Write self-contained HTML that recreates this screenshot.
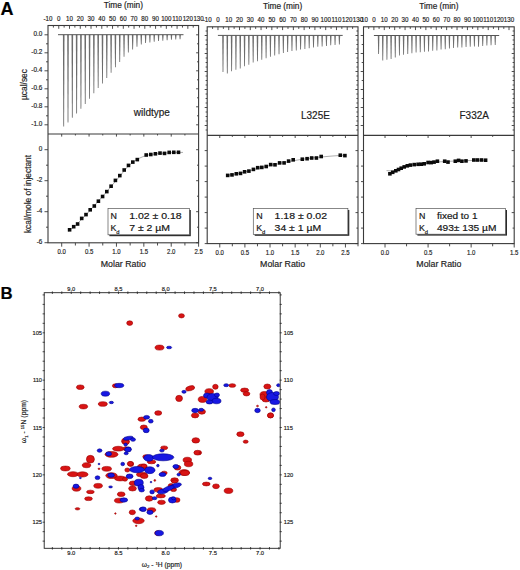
<!DOCTYPE html>
<html><head><meta charset="utf-8"><style>
html,body{margin:0;padding:0;background:#fff;}
svg{display:block;}
text{font-family:"Liberation Sans", sans-serif; stroke:#222; stroke-width:0.18px;}
</style></head><body>
<svg width="520" height="570" viewBox="0 0 520 570">
<defs><clipPath id="nmrclip"><rect x="44.6" y="293.1" width="235.2" height="254.8"/></clipPath></defs>
<rect width="520" height="570" fill="#fff"/>
<g clip-path="url(#nmrclip)">
<ellipse cx="129.7" cy="323.1" rx="3.00" ry="2.30" fill="#d81414" stroke="#9c0000" stroke-width="0.6"/>
<ellipse cx="181.5" cy="315.8" rx="2.90" ry="2.15" fill="#d81414" stroke="#9c0000" stroke-width="0.6"/>
<ellipse cx="159.5" cy="347.6" rx="4.50" ry="2.50" fill="#d81414" stroke="#9c0000" stroke-width="0.6"/>
<ellipse cx="80.3" cy="387.2" rx="3.85" ry="2.30" fill="#d81414" stroke="#9c0000" stroke-width="0.6"/>
<ellipse cx="115.4" cy="385.8" rx="3.00" ry="2.00" fill="#d81414" stroke="#9c0000" stroke-width="0.6"/>
<ellipse cx="102.8" cy="404.0" rx="4.50" ry="2.30" fill="#d81414" stroke="#9c0000" stroke-width="0.6"/>
<ellipse cx="83.4" cy="406.6" rx="4.25" ry="2.30" fill="#d81414" stroke="#9c0000" stroke-width="0.6"/>
<ellipse cx="190.2" cy="388.3" rx="4.60" ry="2.40" fill="#d81414" stroke="#9c0000" stroke-width="0.6" transform="rotate(-15 190.2 388.3)"/>
<ellipse cx="179.1" cy="398.4" rx="3.40" ry="3.10" fill="#d81414" stroke="#9c0000" stroke-width="0.6"/>
<ellipse cx="215.4" cy="386.8" rx="2.75" ry="2.50" fill="#d81414" stroke="#9c0000" stroke-width="0.6"/>
<ellipse cx="209.2" cy="391.4" rx="4.30" ry="2.75" fill="#d81414" stroke="#9c0000" stroke-width="0.6"/>
<ellipse cx="202.5" cy="399.4" rx="4.30" ry="3.00" fill="#d81414" stroke="#9c0000" stroke-width="0.6"/>
<ellipse cx="201.8" cy="411.7" rx="3.70" ry="2.50" fill="#d81414" stroke="#9c0000" stroke-width="0.6"/>
<ellipse cx="195.1" cy="415.4" rx="3.70" ry="2.50" fill="#d81414" stroke="#9c0000" stroke-width="0.6"/>
<ellipse cx="158.2" cy="413.0" rx="3.50" ry="2.30" fill="#d81414" stroke="#9c0000" stroke-width="0.6"/>
<ellipse cx="232.3" cy="385.5" rx="3.40" ry="1.85" fill="#d81414" stroke="#9c0000" stroke-width="0.6"/>
<ellipse cx="244.6" cy="390.2" rx="4.00" ry="2.15" fill="#d81414" stroke="#9c0000" stroke-width="0.6"/>
<ellipse cx="246.5" cy="393.8" rx="3.40" ry="2.15" fill="#d81414" stroke="#9c0000" stroke-width="0.6"/>
<ellipse cx="267.3" cy="386.5" rx="3.50" ry="2.50" fill="#d81414" stroke="#9c0000" stroke-width="0.6"/>
<ellipse cx="264.5" cy="394.5" rx="4.50" ry="3.00" fill="#d81414" stroke="#9c0000" stroke-width="0.6"/>
<ellipse cx="266.0" cy="399.5" rx="4.00" ry="2.50" fill="#d81414" stroke="#9c0000" stroke-width="0.6"/>
<ellipse cx="262.5" cy="397.0" rx="2.50" ry="3.00" fill="#d81414" stroke="#9c0000" stroke-width="0.6"/>
<ellipse cx="270.5" cy="415.4" rx="3.00" ry="2.50" fill="#d81414" stroke="#9c0000" stroke-width="0.6"/>
<ellipse cx="257.5" cy="406.0" rx="1.00" ry="0.80" fill="#d81414" stroke="#9c0000" stroke-width="0.6"/>
<ellipse cx="266.2" cy="407.3" rx="0.80" ry="0.70" fill="#d81414" stroke="#9c0000" stroke-width="0.6"/>
<ellipse cx="141.8" cy="419.2" rx="3.85" ry="2.15" fill="#d81414" stroke="#9c0000" stroke-width="0.6"/>
<ellipse cx="143.8" cy="427.3" rx="3.50" ry="2.30" fill="#d81414" stroke="#9c0000" stroke-width="0.6"/>
<ellipse cx="125.4" cy="441.2" rx="3.85" ry="3.00" fill="#d81414" stroke="#9c0000" stroke-width="0.6"/>
<ellipse cx="126.0" cy="442.5" rx="2.50" ry="2.00" fill="#d81414" stroke="#9c0000" stroke-width="0.6"/>
<ellipse cx="195.8" cy="440.4" rx="3.85" ry="2.70" fill="#d81414" stroke="#9c0000" stroke-width="0.6"/>
<ellipse cx="197.7" cy="452.7" rx="3.85" ry="2.40" fill="#d81414" stroke="#9c0000" stroke-width="0.6"/>
<ellipse cx="240.4" cy="434.2" rx="3.65" ry="2.40" fill="#d81414" stroke="#9c0000" stroke-width="0.6"/>
<ellipse cx="245.7" cy="441.7" rx="2.50" ry="1.60" fill="#d81414" stroke="#9c0000" stroke-width="0.6"/>
<ellipse cx="164.2" cy="447.8" rx="3.50" ry="1.90" fill="#d81414" stroke="#9c0000" stroke-width="0.6"/>
<ellipse cx="151.5" cy="461.9" rx="4.25" ry="1.90" fill="#d81414" stroke="#9c0000" stroke-width="0.6"/>
<ellipse cx="145.8" cy="456.7" rx="3.00" ry="2.00" fill="#d81414" stroke="#9c0000" stroke-width="0.6"/>
<ellipse cx="187.3" cy="460.0" rx="4.25" ry="2.75" fill="#d81414" stroke="#9c0000" stroke-width="0.6"/>
<ellipse cx="188.6" cy="464.0" rx="4.25" ry="2.75" fill="#d81414" stroke="#9c0000" stroke-width="0.6"/>
<ellipse cx="177.5" cy="467.7" rx="3.35" ry="2.40" fill="#d81414" stroke="#9c0000" stroke-width="0.6"/>
<ellipse cx="184.2" cy="472.5" rx="5.30" ry="2.90" fill="#d81414" stroke="#9c0000" stroke-width="0.6"/>
<ellipse cx="164.2" cy="472.9" rx="3.00" ry="1.75" fill="#d81414" stroke="#9c0000" stroke-width="0.6"/>
<ellipse cx="174.6" cy="480.2" rx="3.85" ry="2.40" fill="#d81414" stroke="#9c0000" stroke-width="0.6"/>
<ellipse cx="206.3" cy="484.0" rx="3.85" ry="1.90" fill="#d81414" stroke="#9c0000" stroke-width="0.6"/>
<ellipse cx="216.0" cy="486.3" rx="3.35" ry="2.40" fill="#d81414" stroke="#9c0000" stroke-width="0.6"/>
<ellipse cx="228.5" cy="490.8" rx="4.35" ry="2.70" fill="#d81414" stroke="#9c0000" stroke-width="0.6"/>
<ellipse cx="185.0" cy="473.0" rx="4.50" ry="2.50" fill="#d81414" stroke="#9c0000" stroke-width="0.6"/>
<ellipse cx="158.3" cy="489.8" rx="4.35" ry="2.20" fill="#d81414" stroke="#9c0000" stroke-width="0.6"/>
<ellipse cx="160.8" cy="496.0" rx="4.60" ry="1.90" fill="#d81414" stroke="#9c0000" stroke-width="0.6"/>
<ellipse cx="149.2" cy="498.5" rx="3.85" ry="2.70" fill="#d81414" stroke="#9c0000" stroke-width="0.6"/>
<ellipse cx="161.5" cy="502.3" rx="3.85" ry="2.15" fill="#d81414" stroke="#9c0000" stroke-width="0.6"/>
<ellipse cx="176.9" cy="500.0" rx="3.10" ry="2.30" fill="#d81414" stroke="#9c0000" stroke-width="0.6"/>
<ellipse cx="171.2" cy="485.6" rx="3.00" ry="2.00" fill="#d81414" stroke="#9c0000" stroke-width="0.6"/>
<ellipse cx="173.5" cy="489.6" rx="3.00" ry="2.00" fill="#d81414" stroke="#9c0000" stroke-width="0.6"/>
<ellipse cx="174.6" cy="481.5" rx="3.10" ry="1.60" fill="#d81414" stroke="#9c0000" stroke-width="0.6"/>
<ellipse cx="65.4" cy="468.5" rx="4.80" ry="2.40" fill="#d81414" stroke="#9c0000" stroke-width="0.6"/>
<ellipse cx="73.0" cy="474.2" rx="5.50" ry="2.50" fill="#d81414" stroke="#9c0000" stroke-width="0.6"/>
<ellipse cx="82.5" cy="474.4" rx="5.50" ry="2.60" fill="#d81414" stroke="#9c0000" stroke-width="0.6"/>
<ellipse cx="90.4" cy="459.2" rx="4.00" ry="3.85" fill="#d81414" stroke="#9c0000" stroke-width="0.6"/>
<ellipse cx="86.5" cy="465.2" rx="4.25" ry="2.50" fill="#d81414" stroke="#9c0000" stroke-width="0.6"/>
<ellipse cx="111.5" cy="454.4" rx="6.50" ry="2.90" fill="#d81414" stroke="#9c0000" stroke-width="0.6"/>
<ellipse cx="118.3" cy="448.7" rx="5.75" ry="2.40" fill="#d81414" stroke="#9c0000" stroke-width="0.6"/>
<ellipse cx="126.0" cy="442.0" rx="3.35" ry="2.40" fill="#d81414" stroke="#9c0000" stroke-width="0.6"/>
<ellipse cx="125.6" cy="448.7" rx="2.50" ry="2.00" fill="#d81414" stroke="#9c0000" stroke-width="0.6"/>
<ellipse cx="106.7" cy="468.8" rx="4.80" ry="2.40" fill="#d81414" stroke="#9c0000" stroke-width="0.6"/>
<ellipse cx="130.8" cy="464.0" rx="2.90" ry="2.40" fill="#d81414" stroke="#9c0000" stroke-width="0.6"/>
<ellipse cx="130.2" cy="463.7" rx="2.90" ry="2.30" fill="#d81414" stroke="#9c0000" stroke-width="0.6"/>
<ellipse cx="127.3" cy="470.0" rx="2.50" ry="2.00" fill="#d81414" stroke="#9c0000" stroke-width="0.6"/>
<ellipse cx="111.5" cy="475.6" rx="5.75" ry="2.90" fill="#d81414" stroke="#9c0000" stroke-width="0.6"/>
<ellipse cx="120.2" cy="478.5" rx="5.75" ry="2.40" fill="#d81414" stroke="#9c0000" stroke-width="0.6"/>
<ellipse cx="125.0" cy="479.2" rx="2.50" ry="2.00" fill="#d81414" stroke="#9c0000" stroke-width="0.6"/>
<ellipse cx="142.3" cy="467.0" rx="4.80" ry="2.90" fill="#d81414" stroke="#9c0000" stroke-width="0.6"/>
<ellipse cx="144.0" cy="466.0" rx="3.00" ry="2.00" fill="#d81414" stroke="#9c0000" stroke-width="0.6"/>
<ellipse cx="141.7" cy="474.5" rx="5.20" ry="2.30" fill="#d81414" stroke="#9c0000" stroke-width="0.6"/>
<ellipse cx="144.2" cy="476.0" rx="3.85" ry="2.50" fill="#d81414" stroke="#9c0000" stroke-width="0.6"/>
<ellipse cx="133.1" cy="483.3" rx="3.85" ry="2.30" fill="#d81414" stroke="#9c0000" stroke-width="0.6"/>
<ellipse cx="132.5" cy="488.5" rx="3.85" ry="2.50" fill="#d81414" stroke="#9c0000" stroke-width="0.6"/>
<ellipse cx="98.1" cy="485.8" rx="4.35" ry="2.40" fill="#d81414" stroke="#9c0000" stroke-width="0.6"/>
<ellipse cx="76.5" cy="488.5" rx="4.35" ry="2.70" fill="#d81414" stroke="#9c0000" stroke-width="0.6"/>
<ellipse cx="90.4" cy="491.9" rx="3.85" ry="1.75" fill="#d81414" stroke="#9c0000" stroke-width="0.6"/>
<ellipse cx="88.5" cy="498.7" rx="3.85" ry="1.90" fill="#d81414" stroke="#9c0000" stroke-width="0.6"/>
<ellipse cx="121.2" cy="494.2" rx="3.85" ry="2.30" fill="#d81414" stroke="#9c0000" stroke-width="0.6"/>
<ellipse cx="119.2" cy="500.6" rx="4.80" ry="2.40" fill="#d81414" stroke="#9c0000" stroke-width="0.6"/>
<ellipse cx="77.5" cy="508.8" rx="2.40" ry="1.15" fill="#d81414" stroke="#9c0000" stroke-width="0.6"/>
<ellipse cx="132.3" cy="512.3" rx="3.10" ry="2.40" fill="#d81414" stroke="#9c0000" stroke-width="0.6"/>
<ellipse cx="151.5" cy="510.0" rx="4.25" ry="2.30" fill="#d81414" stroke="#9c0000" stroke-width="0.6"/>
<ellipse cx="138.5" cy="520.8" rx="5.75" ry="2.90" fill="#d81414" stroke="#9c0000" stroke-width="0.6"/>
<ellipse cx="157.7" cy="533.1" rx="3.00" ry="2.40" fill="#d81414" stroke="#9c0000" stroke-width="0.6"/>
<ellipse cx="115.4" cy="513.5" rx="0.75" ry="0.75" fill="#d81414" stroke="#9c0000" stroke-width="0.6"/>
<ellipse cx="99.0" cy="468.8" rx="1.00" ry="0.75" fill="#d81414" stroke="#9c0000" stroke-width="0.6"/>
<ellipse cx="156.2" cy="516.5" rx="0.75" ry="0.75" fill="#d81414" stroke="#9c0000" stroke-width="0.6"/>
<ellipse cx="136.2" cy="525.8" rx="0.80" ry="0.80" fill="#d81414" stroke="#9c0000" stroke-width="0.6"/>
<ellipse cx="154.8" cy="480.4" rx="0.90" ry="0.90" fill="#d81414" stroke="#9c0000" stroke-width="0.6"/>
<ellipse cx="200.0" cy="453.0" rx="1.00" ry="1.00" fill="#d81414" stroke="#9c0000" stroke-width="0.6"/>
<ellipse cx="270.5" cy="415.4" rx="3.00" ry="2.50" fill="#d81414" stroke="#9c0000" stroke-width="0.6"/>
<ellipse cx="169.1" cy="347.5" rx="2.60" ry="1.30" fill="#1717e2" stroke="#00008c" stroke-width="0.6"/>
<ellipse cx="119.2" cy="385.5" rx="4.60" ry="2.15" fill="#1717e2" stroke="#00008c" stroke-width="0.6"/>
<ellipse cx="105.4" cy="393.7" rx="4.25" ry="2.50" fill="#1717e2" stroke="#00008c" stroke-width="0.6"/>
<ellipse cx="111.4" cy="402.5" rx="2.15" ry="1.20" fill="#1717e2" stroke="#00008c" stroke-width="0.6"/>
<ellipse cx="184.0" cy="391.8" rx="2.15" ry="1.50" fill="#1717e2" stroke="#00008c" stroke-width="0.6"/>
<ellipse cx="207.0" cy="395.5" rx="3.50" ry="2.50" fill="#1717e2" stroke="#00008c" stroke-width="0.6"/>
<ellipse cx="212.5" cy="397.5" rx="5.50" ry="4.00" fill="#1717e2" stroke="#00008c" stroke-width="0.6"/>
<ellipse cx="216.5" cy="401.0" rx="4.50" ry="2.75" fill="#1717e2" stroke="#00008c" stroke-width="0.6"/>
<ellipse cx="209.5" cy="402.0" rx="3.50" ry="2.00" fill="#1717e2" stroke="#00008c" stroke-width="0.6"/>
<ellipse cx="217.0" cy="395.0" rx="2.50" ry="2.00" fill="#1717e2" stroke="#00008c" stroke-width="0.6"/>
<ellipse cx="195.1" cy="410.5" rx="3.40" ry="2.15" fill="#1717e2" stroke="#00008c" stroke-width="0.6"/>
<ellipse cx="201.2" cy="409.8" rx="2.50" ry="1.50" fill="#1717e2" stroke="#00008c" stroke-width="0.6"/>
<ellipse cx="226.2" cy="385.2" rx="2.50" ry="1.50" fill="#1717e2" stroke="#00008c" stroke-width="0.6"/>
<ellipse cx="278.5" cy="385.2" rx="1.85" ry="1.50" fill="#1717e2" stroke="#00008c" stroke-width="0.6"/>
<ellipse cx="269.5" cy="392.5" rx="3.00" ry="3.00" fill="#1717e2" stroke="#00008c" stroke-width="0.6"/>
<ellipse cx="272.5" cy="397.0" rx="6.00" ry="4.50" fill="#1717e2" stroke="#00008c" stroke-width="0.6"/>
<ellipse cx="275.0" cy="402.0" rx="5.00" ry="2.50" fill="#1717e2" stroke="#00008c" stroke-width="0.6"/>
<ellipse cx="276.5" cy="393.5" rx="3.00" ry="2.00" fill="#1717e2" stroke="#00008c" stroke-width="0.6"/>
<ellipse cx="257.5" cy="410.5" rx="2.75" ry="2.15" fill="#1717e2" stroke="#00008c" stroke-width="0.6"/>
<ellipse cx="273.5" cy="409.8" rx="1.85" ry="1.85" fill="#1717e2" stroke="#00008c" stroke-width="0.6"/>
<ellipse cx="146.6" cy="417.3" rx="3.00" ry="1.90" fill="#1717e2" stroke="#00008c" stroke-width="0.6"/>
<ellipse cx="150.8" cy="421.2" rx="2.30" ry="1.90" fill="#1717e2" stroke="#00008c" stroke-width="0.6"/>
<ellipse cx="146.2" cy="430.4" rx="3.00" ry="2.30" fill="#1717e2" stroke="#00008c" stroke-width="0.6"/>
<ellipse cx="128.3" cy="438.2" rx="5.00" ry="1.80" fill="#1717e2" stroke="#00008c" stroke-width="0.6" transform="rotate(-8 128.3 438.2)"/>
<ellipse cx="133.0" cy="439.6" rx="2.50" ry="1.75" fill="#1717e2" stroke="#00008c" stroke-width="0.6"/>
<ellipse cx="126.2" cy="453.3" rx="2.00" ry="1.50" fill="#1717e2" stroke="#00008c" stroke-width="0.6"/>
<ellipse cx="125.6" cy="444.6" rx="1.75" ry="1.50" fill="#1717e2" stroke="#00008c" stroke-width="0.6"/>
<ellipse cx="128.5" cy="449.2" rx="2.75" ry="2.25" fill="#1717e2" stroke="#00008c" stroke-width="0.6"/>
<ellipse cx="161.9" cy="450.6" rx="2.30" ry="1.45" fill="#1717e2" stroke="#00008c" stroke-width="0.6"/>
<ellipse cx="148.7" cy="457.9" rx="5.00" ry="3.30" fill="#1717e2" stroke="#00008c" stroke-width="0.6"/>
<ellipse cx="163.1" cy="457.3" rx="10.75" ry="3.50" fill="#1717e2" stroke="#00008c" stroke-width="0.6"/>
<ellipse cx="157.9" cy="465.6" rx="1.30" ry="1.30" fill="#1717e2" stroke="#00008c" stroke-width="0.6"/>
<ellipse cx="175.8" cy="466.5" rx="2.90" ry="2.00" fill="#1717e2" stroke="#00008c" stroke-width="0.6"/>
<ellipse cx="178.7" cy="474.6" rx="1.70" ry="1.40" fill="#1717e2" stroke="#00008c" stroke-width="0.6"/>
<ellipse cx="162.5" cy="474.4" rx="3.45" ry="2.00" fill="#1717e2" stroke="#00008c" stroke-width="0.6"/>
<ellipse cx="137.0" cy="469.6" rx="7.50" ry="3.10" fill="#1717e2" stroke="#00008c" stroke-width="0.6"/>
<ellipse cx="149.8" cy="470.2" rx="5.20" ry="3.45" fill="#1717e2" stroke="#00008c" stroke-width="0.6"/>
<ellipse cx="129.6" cy="476.3" rx="3.45" ry="2.30" fill="#1717e2" stroke="#00008c" stroke-width="0.6"/>
<ellipse cx="138.8" cy="482.7" rx="4.50" ry="3.45" fill="#1717e2" stroke="#00008c" stroke-width="0.6"/>
<ellipse cx="141.0" cy="487.5" rx="3.00" ry="3.00" fill="#1717e2" stroke="#00008c" stroke-width="0.6"/>
<ellipse cx="141.7" cy="490.2" rx="2.75" ry="1.75" fill="#1717e2" stroke="#00008c" stroke-width="0.6"/>
<ellipse cx="152.1" cy="491.9" rx="2.30" ry="2.00" fill="#1717e2" stroke="#00008c" stroke-width="0.6"/>
<ellipse cx="163.1" cy="491.3" rx="5.75" ry="2.30" fill="#1717e2" stroke="#00008c" stroke-width="0.6" transform="rotate(-12 163.1 491.3)"/>
<ellipse cx="175.8" cy="485.6" rx="5.75" ry="2.30" fill="#1717e2" stroke="#00008c" stroke-width="0.6" transform="rotate(-15 175.8 485.6)"/>
<ellipse cx="168.5" cy="488.5" rx="6.00" ry="2.20" fill="#1717e2" stroke="#00008c" stroke-width="0.6" transform="rotate(-20 168.5 488.5)"/>
<ellipse cx="154.6" cy="498.2" rx="2.30" ry="1.50" fill="#1717e2" stroke="#00008c" stroke-width="0.6"/>
<ellipse cx="172.3" cy="500.0" rx="3.85" ry="3.00" fill="#1717e2" stroke="#00008c" stroke-width="0.6"/>
<ellipse cx="173.5" cy="498.3" rx="2.00" ry="1.50" fill="#1717e2" stroke="#00008c" stroke-width="0.6"/>
<ellipse cx="99.6" cy="450.6" rx="2.40" ry="1.75" fill="#1717e2" stroke="#00008c" stroke-width="0.6"/>
<ellipse cx="108.7" cy="453.8" rx="2.90" ry="2.10" fill="#1717e2" stroke="#00008c" stroke-width="0.6"/>
<ellipse cx="127.9" cy="449.6" rx="3.35" ry="2.40" fill="#1717e2" stroke="#00008c" stroke-width="0.6"/>
<ellipse cx="122.7" cy="464.0" rx="1.90" ry="1.75" fill="#1717e2" stroke="#00008c" stroke-width="0.6"/>
<ellipse cx="111.1" cy="475.2" rx="3.35" ry="2.10" fill="#1717e2" stroke="#00008c" stroke-width="0.6"/>
<ellipse cx="97.5" cy="477.7" rx="2.40" ry="1.90" fill="#1717e2" stroke="#00008c" stroke-width="0.6"/>
<ellipse cx="76.0" cy="486.2" rx="2.90" ry="2.10" fill="#1717e2" stroke="#00008c" stroke-width="0.6"/>
<ellipse cx="110.6" cy="486.9" rx="1.90" ry="1.00" fill="#1717e2" stroke="#00008c" stroke-width="0.6"/>
<ellipse cx="123.8" cy="500.0" rx="3.85" ry="2.15" fill="#1717e2" stroke="#00008c" stroke-width="0.6"/>
<ellipse cx="142.3" cy="509.2" rx="3.10" ry="1.90" fill="#1717e2" stroke="#00008c" stroke-width="0.6"/>
<ellipse cx="150.0" cy="512.3" rx="3.10" ry="2.15" fill="#1717e2" stroke="#00008c" stroke-width="0.6"/>
<ellipse cx="137.2" cy="518.5" rx="2.30" ry="1.50" fill="#1717e2" stroke="#00008c" stroke-width="0.6"/>
<ellipse cx="159.2" cy="533.1" rx="4.25" ry="2.70" fill="#1717e2" stroke="#00008c" stroke-width="0.6"/>
<ellipse cx="210.0" cy="478.4" rx="1.80" ry="1.20" fill="#1717e2" stroke="#00008c" stroke-width="0.6"/>
<ellipse cx="80.4" cy="477.9" rx="1.00" ry="0.75" fill="#1717e2" stroke="#00008c" stroke-width="0.6"/>
<ellipse cx="99.0" cy="464.0" rx="1.00" ry="0.75" fill="#1717e2" stroke="#00008c" stroke-width="0.6"/>
<ellipse cx="151.0" cy="482.1" rx="0.80" ry="0.80" fill="#1717e2" stroke="#00008c" stroke-width="0.6"/>
<ellipse cx="143.3" cy="509.2" rx="3.00" ry="2.30" fill="#1717e2" stroke="#00008c" stroke-width="0.6"/>
</g>
<line x1="53.38" y1="25.50" x2="53.38" y2="27.60" stroke="#3a3a3a" stroke-width="0.9" />
<line x1="58.76" y1="25.50" x2="58.76" y2="28.80" stroke="#3a3a3a" stroke-width="0.9" />
<line x1="64.14" y1="25.50" x2="64.14" y2="27.60" stroke="#3a3a3a" stroke-width="0.9" />
<line x1="69.51" y1="25.50" x2="69.51" y2="28.80" stroke="#3a3a3a" stroke-width="0.9" />
<line x1="74.89" y1="25.50" x2="74.89" y2="27.60" stroke="#3a3a3a" stroke-width="0.9" />
<line x1="80.27" y1="25.50" x2="80.27" y2="28.80" stroke="#3a3a3a" stroke-width="0.9" />
<line x1="85.65" y1="25.50" x2="85.65" y2="27.60" stroke="#3a3a3a" stroke-width="0.9" />
<line x1="91.03" y1="25.50" x2="91.03" y2="28.80" stroke="#3a3a3a" stroke-width="0.9" />
<line x1="96.41" y1="25.50" x2="96.41" y2="27.60" stroke="#3a3a3a" stroke-width="0.9" />
<line x1="101.79" y1="25.50" x2="101.79" y2="28.80" stroke="#3a3a3a" stroke-width="0.9" />
<line x1="107.16" y1="25.50" x2="107.16" y2="27.60" stroke="#3a3a3a" stroke-width="0.9" />
<line x1="112.54" y1="25.50" x2="112.54" y2="28.80" stroke="#3a3a3a" stroke-width="0.9" />
<line x1="117.92" y1="25.50" x2="117.92" y2="27.60" stroke="#3a3a3a" stroke-width="0.9" />
<line x1="123.30" y1="25.50" x2="123.30" y2="28.80" stroke="#3a3a3a" stroke-width="0.9" />
<line x1="128.68" y1="25.50" x2="128.68" y2="27.60" stroke="#3a3a3a" stroke-width="0.9" />
<line x1="134.06" y1="25.50" x2="134.06" y2="28.80" stroke="#3a3a3a" stroke-width="0.9" />
<line x1="139.44" y1="25.50" x2="139.44" y2="27.60" stroke="#3a3a3a" stroke-width="0.9" />
<line x1="144.81" y1="25.50" x2="144.81" y2="28.80" stroke="#3a3a3a" stroke-width="0.9" />
<line x1="150.19" y1="25.50" x2="150.19" y2="27.60" stroke="#3a3a3a" stroke-width="0.9" />
<line x1="155.57" y1="25.50" x2="155.57" y2="28.80" stroke="#3a3a3a" stroke-width="0.9" />
<line x1="160.95" y1="25.50" x2="160.95" y2="27.60" stroke="#3a3a3a" stroke-width="0.9" />
<line x1="166.33" y1="25.50" x2="166.33" y2="28.80" stroke="#3a3a3a" stroke-width="0.9" />
<line x1="171.71" y1="25.50" x2="171.71" y2="27.60" stroke="#3a3a3a" stroke-width="0.9" />
<line x1="177.09" y1="25.50" x2="177.09" y2="28.80" stroke="#3a3a3a" stroke-width="0.9" />
<line x1="182.46" y1="25.50" x2="182.46" y2="27.60" stroke="#3a3a3a" stroke-width="0.9" />
<line x1="187.84" y1="25.50" x2="187.84" y2="28.80" stroke="#3a3a3a" stroke-width="0.9" />
<line x1="193.22" y1="25.50" x2="193.22" y2="27.60" stroke="#3a3a3a" stroke-width="0.9" />
<text x="48.00" y="20.60" font-size="7.0" text-anchor="middle" fill="#222" textLength="8.96" lengthAdjust="spacingAndGlyphs">-10</text>
<text x="58.76" y="20.60" font-size="7.0" text-anchor="middle" fill="#222" textLength="3.45" lengthAdjust="spacingAndGlyphs">0</text>
<text x="69.51" y="20.60" font-size="7.0" text-anchor="middle" fill="#222" textLength="6.90" lengthAdjust="spacingAndGlyphs">10</text>
<text x="80.27" y="20.60" font-size="7.0" text-anchor="middle" fill="#222" textLength="6.90" lengthAdjust="spacingAndGlyphs">20</text>
<text x="91.03" y="20.60" font-size="7.0" text-anchor="middle" fill="#222" textLength="6.90" lengthAdjust="spacingAndGlyphs">30</text>
<text x="101.79" y="20.60" font-size="7.0" text-anchor="middle" fill="#222" textLength="6.90" lengthAdjust="spacingAndGlyphs">40</text>
<text x="112.54" y="20.60" font-size="7.0" text-anchor="middle" fill="#222" textLength="6.90" lengthAdjust="spacingAndGlyphs">50</text>
<text x="123.30" y="20.60" font-size="7.0" text-anchor="middle" fill="#222" textLength="6.90" lengthAdjust="spacingAndGlyphs">60</text>
<text x="134.06" y="20.60" font-size="7.0" text-anchor="middle" fill="#222" textLength="6.90" lengthAdjust="spacingAndGlyphs">70</text>
<text x="144.81" y="20.60" font-size="7.0" text-anchor="middle" fill="#222" textLength="6.90" lengthAdjust="spacingAndGlyphs">80</text>
<text x="155.57" y="20.60" font-size="7.0" text-anchor="middle" fill="#222" textLength="6.90" lengthAdjust="spacingAndGlyphs">90</text>
<text x="166.33" y="20.60" font-size="7.0" text-anchor="middle" fill="#222" textLength="10.34" lengthAdjust="spacingAndGlyphs">100</text>
<text x="177.09" y="20.60" font-size="7.0" text-anchor="middle" fill="#222" textLength="9.88" lengthAdjust="spacingAndGlyphs">110</text>
<text x="187.84" y="20.60" font-size="7.0" text-anchor="middle" fill="#222" textLength="10.34" lengthAdjust="spacingAndGlyphs">120</text>
<text x="198.60" y="20.60" font-size="7.0" text-anchor="middle" fill="#222" textLength="10.34" lengthAdjust="spacingAndGlyphs">130</text>
<text x="123.30" y="7.70" font-size="8.3" text-anchor="middle" fill="#222" font-weight="normal" >Time (min)</text>
<line x1="44.50" y1="34.80" x2="48.00" y2="34.80" stroke="#3a3a3a" stroke-width="0.9" />
<text x="42.40" y="36.20" font-size="7.4" text-anchor="end" fill="#222" textLength="8.90" lengthAdjust="spacingAndGlyphs">0.0</text>
<line x1="46.00" y1="43.80" x2="48.00" y2="43.80" stroke="#3a3a3a" stroke-width="0.9" />
<line x1="44.50" y1="52.80" x2="48.00" y2="52.80" stroke="#3a3a3a" stroke-width="0.9" />
<text x="42.40" y="54.20" font-size="7.4" text-anchor="end" fill="#222" textLength="11.03" lengthAdjust="spacingAndGlyphs">-0.2</text>
<line x1="46.00" y1="61.80" x2="48.00" y2="61.80" stroke="#3a3a3a" stroke-width="0.9" />
<line x1="44.50" y1="70.80" x2="48.00" y2="70.80" stroke="#3a3a3a" stroke-width="0.9" />
<text x="42.40" y="72.20" font-size="7.4" text-anchor="end" fill="#222" textLength="11.03" lengthAdjust="spacingAndGlyphs">-0.4</text>
<line x1="46.00" y1="79.80" x2="48.00" y2="79.80" stroke="#3a3a3a" stroke-width="0.9" />
<line x1="44.50" y1="88.80" x2="48.00" y2="88.80" stroke="#3a3a3a" stroke-width="0.9" />
<text x="42.40" y="90.20" font-size="7.4" text-anchor="end" fill="#222" textLength="11.03" lengthAdjust="spacingAndGlyphs">-0.6</text>
<line x1="46.00" y1="97.80" x2="48.00" y2="97.80" stroke="#3a3a3a" stroke-width="0.9" />
<line x1="44.50" y1="106.80" x2="48.00" y2="106.80" stroke="#3a3a3a" stroke-width="0.9" />
<text x="42.40" y="108.20" font-size="7.4" text-anchor="end" fill="#222" textLength="11.03" lengthAdjust="spacingAndGlyphs">-0.8</text>
<line x1="46.00" y1="115.80" x2="48.00" y2="115.80" stroke="#3a3a3a" stroke-width="0.9" />
<line x1="44.50" y1="124.80" x2="48.00" y2="124.80" stroke="#3a3a3a" stroke-width="0.9" />
<text x="42.40" y="126.20" font-size="7.4" text-anchor="end" fill="#222" textLength="11.03" lengthAdjust="spacingAndGlyphs">-1.0</text>
<line x1="196.10" y1="34.80" x2="198.60" y2="34.80" stroke="#3a3a3a" stroke-width="0.9" />
<line x1="197.00" y1="43.80" x2="198.60" y2="43.80" stroke="#3a3a3a" stroke-width="0.9" />
<line x1="196.10" y1="52.80" x2="198.60" y2="52.80" stroke="#3a3a3a" stroke-width="0.9" />
<line x1="197.00" y1="61.80" x2="198.60" y2="61.80" stroke="#3a3a3a" stroke-width="0.9" />
<line x1="196.10" y1="70.80" x2="198.60" y2="70.80" stroke="#3a3a3a" stroke-width="0.9" />
<line x1="197.00" y1="79.80" x2="198.60" y2="79.80" stroke="#3a3a3a" stroke-width="0.9" />
<line x1="196.10" y1="88.80" x2="198.60" y2="88.80" stroke="#3a3a3a" stroke-width="0.9" />
<line x1="197.00" y1="97.80" x2="198.60" y2="97.80" stroke="#3a3a3a" stroke-width="0.9" />
<line x1="196.10" y1="106.80" x2="198.60" y2="106.80" stroke="#3a3a3a" stroke-width="0.9" />
<line x1="197.00" y1="115.80" x2="198.60" y2="115.80" stroke="#3a3a3a" stroke-width="0.9" />
<line x1="196.10" y1="124.80" x2="198.60" y2="124.80" stroke="#3a3a3a" stroke-width="0.9" />
<line x1="61.69" y1="134.00" x2="61.69" y2="136.60" stroke="#3a3a3a" stroke-width="0.9" />
<line x1="75.38" y1="134.00" x2="75.38" y2="135.50" stroke="#3a3a3a" stroke-width="0.9" />
<line x1="89.07" y1="134.00" x2="89.07" y2="136.60" stroke="#3a3a3a" stroke-width="0.9" />
<line x1="102.76" y1="134.00" x2="102.76" y2="135.50" stroke="#3a3a3a" stroke-width="0.9" />
<line x1="116.45" y1="134.00" x2="116.45" y2="136.60" stroke="#3a3a3a" stroke-width="0.9" />
<line x1="130.15" y1="134.00" x2="130.15" y2="135.50" stroke="#3a3a3a" stroke-width="0.9" />
<line x1="143.84" y1="134.00" x2="143.84" y2="136.60" stroke="#3a3a3a" stroke-width="0.9" />
<line x1="157.53" y1="134.00" x2="157.53" y2="135.50" stroke="#3a3a3a" stroke-width="0.9" />
<line x1="171.22" y1="134.00" x2="171.22" y2="136.60" stroke="#3a3a3a" stroke-width="0.9" />
<line x1="184.91" y1="134.00" x2="184.91" y2="135.50" stroke="#3a3a3a" stroke-width="0.9" />
<line x1="61.69" y1="242.80" x2="61.69" y2="246.70" stroke="#3a3a3a" stroke-width="0.9" />
<text x="61.69" y="253.70" font-size="7.3" text-anchor="middle" fill="#222" textLength="8.34" lengthAdjust="spacingAndGlyphs">0.0</text>
<line x1="75.38" y1="242.80" x2="75.38" y2="245.50" stroke="#3a3a3a" stroke-width="0.9" />
<line x1="89.07" y1="242.80" x2="89.07" y2="246.70" stroke="#3a3a3a" stroke-width="0.9" />
<text x="89.07" y="253.70" font-size="7.3" text-anchor="middle" fill="#222" textLength="8.34" lengthAdjust="spacingAndGlyphs">0.5</text>
<line x1="102.76" y1="242.80" x2="102.76" y2="245.50" stroke="#3a3a3a" stroke-width="0.9" />
<line x1="116.45" y1="242.80" x2="116.45" y2="246.70" stroke="#3a3a3a" stroke-width="0.9" />
<text x="116.45" y="253.70" font-size="7.3" text-anchor="middle" fill="#222" textLength="8.34" lengthAdjust="spacingAndGlyphs">1.0</text>
<line x1="130.15" y1="242.80" x2="130.15" y2="245.50" stroke="#3a3a3a" stroke-width="0.9" />
<line x1="143.84" y1="242.80" x2="143.84" y2="246.70" stroke="#3a3a3a" stroke-width="0.9" />
<text x="143.84" y="253.70" font-size="7.3" text-anchor="middle" fill="#222" textLength="8.34" lengthAdjust="spacingAndGlyphs">1.5</text>
<line x1="157.53" y1="242.80" x2="157.53" y2="245.50" stroke="#3a3a3a" stroke-width="0.9" />
<line x1="171.22" y1="242.80" x2="171.22" y2="246.70" stroke="#3a3a3a" stroke-width="0.9" />
<text x="171.22" y="253.70" font-size="7.3" text-anchor="middle" fill="#222" textLength="8.34" lengthAdjust="spacingAndGlyphs">2.0</text>
<line x1="184.91" y1="242.80" x2="184.91" y2="245.50" stroke="#3a3a3a" stroke-width="0.9" />
<line x1="198.60" y1="242.80" x2="198.60" y2="246.70" stroke="#3a3a3a" stroke-width="0.9" />
<text x="198.60" y="253.70" font-size="7.3" text-anchor="middle" fill="#222" textLength="8.34" lengthAdjust="spacingAndGlyphs">2.5</text>
<text x="123.30" y="266.80" font-size="8.8" text-anchor="middle" fill="#222" font-weight="normal" >Molar Ratio</text>
<line x1="44.50" y1="149.70" x2="48.00" y2="149.70" stroke="#3a3a3a" stroke-width="0.9" />
<text x="42.40" y="151.10" font-size="7.4" text-anchor="end" fill="#222" textLength="3.56" lengthAdjust="spacingAndGlyphs">0</text>
<line x1="196.10" y1="149.70" x2="198.60" y2="149.70" stroke="#3a3a3a" stroke-width="0.9" />
<line x1="46.00" y1="165.20" x2="48.00" y2="165.20" stroke="#3a3a3a" stroke-width="0.9" />
<line x1="197.00" y1="165.20" x2="198.60" y2="165.20" stroke="#3a3a3a" stroke-width="0.9" />
<line x1="44.50" y1="180.70" x2="48.00" y2="180.70" stroke="#3a3a3a" stroke-width="0.9" />
<text x="42.40" y="182.10" font-size="7.4" text-anchor="end" fill="#222" textLength="5.69" lengthAdjust="spacingAndGlyphs">-2</text>
<line x1="196.10" y1="180.70" x2="198.60" y2="180.70" stroke="#3a3a3a" stroke-width="0.9" />
<line x1="46.00" y1="196.20" x2="48.00" y2="196.20" stroke="#3a3a3a" stroke-width="0.9" />
<line x1="197.00" y1="196.20" x2="198.60" y2="196.20" stroke="#3a3a3a" stroke-width="0.9" />
<line x1="44.50" y1="211.70" x2="48.00" y2="211.70" stroke="#3a3a3a" stroke-width="0.9" />
<text x="42.40" y="213.10" font-size="7.4" text-anchor="end" fill="#222" textLength="5.69" lengthAdjust="spacingAndGlyphs">-4</text>
<line x1="196.10" y1="211.70" x2="198.60" y2="211.70" stroke="#3a3a3a" stroke-width="0.9" />
<line x1="46.00" y1="227.20" x2="48.00" y2="227.20" stroke="#3a3a3a" stroke-width="0.9" />
<line x1="197.00" y1="227.20" x2="198.60" y2="227.20" stroke="#3a3a3a" stroke-width="0.9" />
<line x1="44.50" y1="242.70" x2="48.00" y2="242.70" stroke="#3a3a3a" stroke-width="0.9" />
<text x="42.40" y="244.10" font-size="7.4" text-anchor="end" fill="#222" textLength="5.69" lengthAdjust="spacingAndGlyphs">-6</text>
<line x1="196.10" y1="242.70" x2="198.60" y2="242.70" stroke="#3a3a3a" stroke-width="0.9" />
<rect x="48.00" y="25.50" width="150.60" height="217.30" fill="none" stroke="#3a3a3a" stroke-width="1.1"/>
<line x1="48.00" y1="134.00" x2="198.60" y2="134.00" stroke="#3a3a3a" stroke-width="1.1" />
<text x="133.80" y="116.20" font-size="10" text-anchor="start" fill="#1a1a1a" font-weight="normal" >wildtype</text>
<line x1="212.59" y1="26.80" x2="212.59" y2="28.90" stroke="#3a3a3a" stroke-width="0.9" />
<line x1="217.97" y1="26.80" x2="217.97" y2="30.10" stroke="#3a3a3a" stroke-width="0.9" />
<line x1="223.36" y1="26.80" x2="223.36" y2="28.90" stroke="#3a3a3a" stroke-width="0.9" />
<line x1="228.74" y1="26.80" x2="228.74" y2="30.10" stroke="#3a3a3a" stroke-width="0.9" />
<line x1="234.13" y1="26.80" x2="234.13" y2="28.90" stroke="#3a3a3a" stroke-width="0.9" />
<line x1="239.51" y1="26.80" x2="239.51" y2="30.10" stroke="#3a3a3a" stroke-width="0.9" />
<line x1="244.90" y1="26.80" x2="244.90" y2="28.90" stroke="#3a3a3a" stroke-width="0.9" />
<line x1="250.29" y1="26.80" x2="250.29" y2="30.10" stroke="#3a3a3a" stroke-width="0.9" />
<line x1="255.67" y1="26.80" x2="255.67" y2="28.90" stroke="#3a3a3a" stroke-width="0.9" />
<line x1="261.06" y1="26.80" x2="261.06" y2="30.10" stroke="#3a3a3a" stroke-width="0.9" />
<line x1="266.44" y1="26.80" x2="266.44" y2="28.90" stroke="#3a3a3a" stroke-width="0.9" />
<line x1="271.83" y1="26.80" x2="271.83" y2="30.10" stroke="#3a3a3a" stroke-width="0.9" />
<line x1="277.21" y1="26.80" x2="277.21" y2="28.90" stroke="#3a3a3a" stroke-width="0.9" />
<line x1="282.60" y1="26.80" x2="282.60" y2="30.10" stroke="#3a3a3a" stroke-width="0.9" />
<line x1="287.99" y1="26.80" x2="287.99" y2="28.90" stroke="#3a3a3a" stroke-width="0.9" />
<line x1="293.37" y1="26.80" x2="293.37" y2="30.10" stroke="#3a3a3a" stroke-width="0.9" />
<line x1="298.76" y1="26.80" x2="298.76" y2="28.90" stroke="#3a3a3a" stroke-width="0.9" />
<line x1="304.14" y1="26.80" x2="304.14" y2="30.10" stroke="#3a3a3a" stroke-width="0.9" />
<line x1="309.53" y1="26.80" x2="309.53" y2="28.90" stroke="#3a3a3a" stroke-width="0.9" />
<line x1="314.91" y1="26.80" x2="314.91" y2="30.10" stroke="#3a3a3a" stroke-width="0.9" />
<line x1="320.30" y1="26.80" x2="320.30" y2="28.90" stroke="#3a3a3a" stroke-width="0.9" />
<line x1="325.69" y1="26.80" x2="325.69" y2="30.10" stroke="#3a3a3a" stroke-width="0.9" />
<line x1="331.07" y1="26.80" x2="331.07" y2="28.90" stroke="#3a3a3a" stroke-width="0.9" />
<line x1="336.46" y1="26.80" x2="336.46" y2="30.10" stroke="#3a3a3a" stroke-width="0.9" />
<line x1="341.84" y1="26.80" x2="341.84" y2="28.90" stroke="#3a3a3a" stroke-width="0.9" />
<line x1="347.23" y1="26.80" x2="347.23" y2="30.10" stroke="#3a3a3a" stroke-width="0.9" />
<line x1="352.61" y1="26.80" x2="352.61" y2="28.90" stroke="#3a3a3a" stroke-width="0.9" />
<text x="207.20" y="21.90" font-size="7.0" text-anchor="middle" fill="#222" textLength="8.96" lengthAdjust="spacingAndGlyphs">-10</text>
<text x="217.97" y="21.90" font-size="7.0" text-anchor="middle" fill="#222" textLength="3.45" lengthAdjust="spacingAndGlyphs">0</text>
<text x="228.74" y="21.90" font-size="7.0" text-anchor="middle" fill="#222" textLength="6.90" lengthAdjust="spacingAndGlyphs">10</text>
<text x="239.51" y="21.90" font-size="7.0" text-anchor="middle" fill="#222" textLength="6.90" lengthAdjust="spacingAndGlyphs">20</text>
<text x="250.29" y="21.90" font-size="7.0" text-anchor="middle" fill="#222" textLength="6.90" lengthAdjust="spacingAndGlyphs">30</text>
<text x="261.06" y="21.90" font-size="7.0" text-anchor="middle" fill="#222" textLength="6.90" lengthAdjust="spacingAndGlyphs">40</text>
<text x="271.83" y="21.90" font-size="7.0" text-anchor="middle" fill="#222" textLength="6.90" lengthAdjust="spacingAndGlyphs">50</text>
<text x="282.60" y="21.90" font-size="7.0" text-anchor="middle" fill="#222" textLength="6.90" lengthAdjust="spacingAndGlyphs">60</text>
<text x="293.37" y="21.90" font-size="7.0" text-anchor="middle" fill="#222" textLength="6.90" lengthAdjust="spacingAndGlyphs">70</text>
<text x="304.14" y="21.90" font-size="7.0" text-anchor="middle" fill="#222" textLength="6.90" lengthAdjust="spacingAndGlyphs">80</text>
<text x="314.91" y="21.90" font-size="7.0" text-anchor="middle" fill="#222" textLength="6.90" lengthAdjust="spacingAndGlyphs">90</text>
<text x="325.69" y="21.90" font-size="7.0" text-anchor="middle" fill="#222" textLength="10.34" lengthAdjust="spacingAndGlyphs">100</text>
<text x="336.46" y="21.90" font-size="7.0" text-anchor="middle" fill="#222" textLength="9.88" lengthAdjust="spacingAndGlyphs">110</text>
<text x="347.23" y="21.90" font-size="7.0" text-anchor="middle" fill="#222" textLength="10.34" lengthAdjust="spacingAndGlyphs">120</text>
<text x="358.00" y="21.90" font-size="7.0" text-anchor="middle" fill="#222" textLength="10.34" lengthAdjust="spacingAndGlyphs">130</text>
<text x="282.60" y="8.87" font-size="8.3" text-anchor="middle" fill="#222" font-weight="normal" >Time (min)</text>
<line x1="205.60" y1="31.00" x2="207.20" y2="31.00" stroke="#3a3a3a" stroke-width="0.9" />
<line x1="204.70" y1="35.50" x2="207.20" y2="35.50" stroke="#3a3a3a" stroke-width="0.9" />
<line x1="205.60" y1="40.00" x2="207.20" y2="40.00" stroke="#3a3a3a" stroke-width="0.9" />
<line x1="205.60" y1="44.50" x2="207.20" y2="44.50" stroke="#3a3a3a" stroke-width="0.9" />
<line x1="205.60" y1="49.00" x2="207.20" y2="49.00" stroke="#3a3a3a" stroke-width="0.9" />
<line x1="204.70" y1="53.50" x2="207.20" y2="53.50" stroke="#3a3a3a" stroke-width="0.9" />
<line x1="205.60" y1="58.00" x2="207.20" y2="58.00" stroke="#3a3a3a" stroke-width="0.9" />
<line x1="205.60" y1="62.50" x2="207.20" y2="62.50" stroke="#3a3a3a" stroke-width="0.9" />
<line x1="205.60" y1="67.00" x2="207.20" y2="67.00" stroke="#3a3a3a" stroke-width="0.9" />
<line x1="204.70" y1="71.50" x2="207.20" y2="71.50" stroke="#3a3a3a" stroke-width="0.9" />
<line x1="205.60" y1="76.00" x2="207.20" y2="76.00" stroke="#3a3a3a" stroke-width="0.9" />
<line x1="205.60" y1="80.50" x2="207.20" y2="80.50" stroke="#3a3a3a" stroke-width="0.9" />
<line x1="205.60" y1="85.00" x2="207.20" y2="85.00" stroke="#3a3a3a" stroke-width="0.9" />
<line x1="204.70" y1="89.50" x2="207.20" y2="89.50" stroke="#3a3a3a" stroke-width="0.9" />
<line x1="205.60" y1="94.00" x2="207.20" y2="94.00" stroke="#3a3a3a" stroke-width="0.9" />
<line x1="205.60" y1="98.50" x2="207.20" y2="98.50" stroke="#3a3a3a" stroke-width="0.9" />
<line x1="205.60" y1="103.00" x2="207.20" y2="103.00" stroke="#3a3a3a" stroke-width="0.9" />
<line x1="204.70" y1="107.50" x2="207.20" y2="107.50" stroke="#3a3a3a" stroke-width="0.9" />
<line x1="205.60" y1="112.00" x2="207.20" y2="112.00" stroke="#3a3a3a" stroke-width="0.9" />
<line x1="205.60" y1="116.50" x2="207.20" y2="116.50" stroke="#3a3a3a" stroke-width="0.9" />
<line x1="205.60" y1="121.00" x2="207.20" y2="121.00" stroke="#3a3a3a" stroke-width="0.9" />
<line x1="204.70" y1="125.50" x2="207.20" y2="125.50" stroke="#3a3a3a" stroke-width="0.9" />
<line x1="205.60" y1="130.00" x2="207.20" y2="130.00" stroke="#3a3a3a" stroke-width="0.9" />
<line x1="356.40" y1="31.00" x2="358.00" y2="31.00" stroke="#3a3a3a" stroke-width="0.9" />
<line x1="355.50" y1="35.50" x2="358.00" y2="35.50" stroke="#3a3a3a" stroke-width="0.9" />
<line x1="356.40" y1="40.00" x2="358.00" y2="40.00" stroke="#3a3a3a" stroke-width="0.9" />
<line x1="356.40" y1="44.50" x2="358.00" y2="44.50" stroke="#3a3a3a" stroke-width="0.9" />
<line x1="356.40" y1="49.00" x2="358.00" y2="49.00" stroke="#3a3a3a" stroke-width="0.9" />
<line x1="355.50" y1="53.50" x2="358.00" y2="53.50" stroke="#3a3a3a" stroke-width="0.9" />
<line x1="356.40" y1="58.00" x2="358.00" y2="58.00" stroke="#3a3a3a" stroke-width="0.9" />
<line x1="356.40" y1="62.50" x2="358.00" y2="62.50" stroke="#3a3a3a" stroke-width="0.9" />
<line x1="356.40" y1="67.00" x2="358.00" y2="67.00" stroke="#3a3a3a" stroke-width="0.9" />
<line x1="355.50" y1="71.50" x2="358.00" y2="71.50" stroke="#3a3a3a" stroke-width="0.9" />
<line x1="356.40" y1="76.00" x2="358.00" y2="76.00" stroke="#3a3a3a" stroke-width="0.9" />
<line x1="356.40" y1="80.50" x2="358.00" y2="80.50" stroke="#3a3a3a" stroke-width="0.9" />
<line x1="356.40" y1="85.00" x2="358.00" y2="85.00" stroke="#3a3a3a" stroke-width="0.9" />
<line x1="355.50" y1="89.50" x2="358.00" y2="89.50" stroke="#3a3a3a" stroke-width="0.9" />
<line x1="356.40" y1="94.00" x2="358.00" y2="94.00" stroke="#3a3a3a" stroke-width="0.9" />
<line x1="356.40" y1="98.50" x2="358.00" y2="98.50" stroke="#3a3a3a" stroke-width="0.9" />
<line x1="356.40" y1="103.00" x2="358.00" y2="103.00" stroke="#3a3a3a" stroke-width="0.9" />
<line x1="355.50" y1="107.50" x2="358.00" y2="107.50" stroke="#3a3a3a" stroke-width="0.9" />
<line x1="356.40" y1="112.00" x2="358.00" y2="112.00" stroke="#3a3a3a" stroke-width="0.9" />
<line x1="356.40" y1="116.50" x2="358.00" y2="116.50" stroke="#3a3a3a" stroke-width="0.9" />
<line x1="356.40" y1="121.00" x2="358.00" y2="121.00" stroke="#3a3a3a" stroke-width="0.9" />
<line x1="355.50" y1="125.50" x2="358.00" y2="125.50" stroke="#3a3a3a" stroke-width="0.9" />
<line x1="356.40" y1="130.00" x2="358.00" y2="130.00" stroke="#3a3a3a" stroke-width="0.9" />
<line x1="219.77" y1="135.40" x2="219.77" y2="138.00" stroke="#3a3a3a" stroke-width="0.9" />
<line x1="232.33" y1="135.40" x2="232.33" y2="136.90" stroke="#3a3a3a" stroke-width="0.9" />
<line x1="244.90" y1="135.40" x2="244.90" y2="138.00" stroke="#3a3a3a" stroke-width="0.9" />
<line x1="257.47" y1="135.40" x2="257.47" y2="136.90" stroke="#3a3a3a" stroke-width="0.9" />
<line x1="270.03" y1="135.40" x2="270.03" y2="138.00" stroke="#3a3a3a" stroke-width="0.9" />
<line x1="282.60" y1="135.40" x2="282.60" y2="136.90" stroke="#3a3a3a" stroke-width="0.9" />
<line x1="295.17" y1="135.40" x2="295.17" y2="138.00" stroke="#3a3a3a" stroke-width="0.9" />
<line x1="307.73" y1="135.40" x2="307.73" y2="136.90" stroke="#3a3a3a" stroke-width="0.9" />
<line x1="320.30" y1="135.40" x2="320.30" y2="138.00" stroke="#3a3a3a" stroke-width="0.9" />
<line x1="332.87" y1="135.40" x2="332.87" y2="136.90" stroke="#3a3a3a" stroke-width="0.9" />
<line x1="345.43" y1="135.40" x2="345.43" y2="138.00" stroke="#3a3a3a" stroke-width="0.9" />
<line x1="219.77" y1="243.60" x2="219.77" y2="247.50" stroke="#3a3a3a" stroke-width="0.9" />
<text x="219.77" y="254.50" font-size="7.3" text-anchor="middle" fill="#222" textLength="8.34" lengthAdjust="spacingAndGlyphs">0.0</text>
<line x1="232.33" y1="243.60" x2="232.33" y2="246.30" stroke="#3a3a3a" stroke-width="0.9" />
<line x1="244.90" y1="243.60" x2="244.90" y2="247.50" stroke="#3a3a3a" stroke-width="0.9" />
<text x="244.90" y="254.50" font-size="7.3" text-anchor="middle" fill="#222" textLength="8.34" lengthAdjust="spacingAndGlyphs">0.5</text>
<line x1="257.47" y1="243.60" x2="257.47" y2="246.30" stroke="#3a3a3a" stroke-width="0.9" />
<line x1="270.03" y1="243.60" x2="270.03" y2="247.50" stroke="#3a3a3a" stroke-width="0.9" />
<text x="270.03" y="254.50" font-size="7.3" text-anchor="middle" fill="#222" textLength="8.34" lengthAdjust="spacingAndGlyphs">1.0</text>
<line x1="282.60" y1="243.60" x2="282.60" y2="246.30" stroke="#3a3a3a" stroke-width="0.9" />
<line x1="295.17" y1="243.60" x2="295.17" y2="247.50" stroke="#3a3a3a" stroke-width="0.9" />
<text x="295.17" y="254.50" font-size="7.3" text-anchor="middle" fill="#222" textLength="8.34" lengthAdjust="spacingAndGlyphs">1.5</text>
<line x1="307.73" y1="243.60" x2="307.73" y2="246.30" stroke="#3a3a3a" stroke-width="0.9" />
<line x1="320.30" y1="243.60" x2="320.30" y2="247.50" stroke="#3a3a3a" stroke-width="0.9" />
<text x="320.30" y="254.50" font-size="7.3" text-anchor="middle" fill="#222" textLength="8.34" lengthAdjust="spacingAndGlyphs">2.0</text>
<line x1="332.87" y1="243.60" x2="332.87" y2="246.30" stroke="#3a3a3a" stroke-width="0.9" />
<line x1="345.43" y1="243.60" x2="345.43" y2="247.50" stroke="#3a3a3a" stroke-width="0.9" />
<text x="345.43" y="254.50" font-size="7.3" text-anchor="middle" fill="#222" textLength="8.34" lengthAdjust="spacingAndGlyphs">2.5</text>
<line x1="358.00" y1="243.60" x2="358.00" y2="246.30" stroke="#3a3a3a" stroke-width="0.9" />
<text x="282.60" y="266.80" font-size="8.8" text-anchor="middle" fill="#222" font-weight="normal" >Molar Ratio</text>
<line x1="204.70" y1="150.60" x2="207.20" y2="150.60" stroke="#3a3a3a" stroke-width="0.9" />
<line x1="355.50" y1="150.60" x2="358.00" y2="150.60" stroke="#3a3a3a" stroke-width="0.9" />
<line x1="204.70" y1="166.10" x2="207.20" y2="166.10" stroke="#3a3a3a" stroke-width="0.9" />
<line x1="356.40" y1="166.10" x2="358.00" y2="166.10" stroke="#3a3a3a" stroke-width="0.9" />
<line x1="204.70" y1="181.60" x2="207.20" y2="181.60" stroke="#3a3a3a" stroke-width="0.9" />
<line x1="355.50" y1="181.60" x2="358.00" y2="181.60" stroke="#3a3a3a" stroke-width="0.9" />
<line x1="204.70" y1="197.10" x2="207.20" y2="197.10" stroke="#3a3a3a" stroke-width="0.9" />
<line x1="356.40" y1="197.10" x2="358.00" y2="197.10" stroke="#3a3a3a" stroke-width="0.9" />
<line x1="204.70" y1="212.60" x2="207.20" y2="212.60" stroke="#3a3a3a" stroke-width="0.9" />
<line x1="355.50" y1="212.60" x2="358.00" y2="212.60" stroke="#3a3a3a" stroke-width="0.9" />
<line x1="204.70" y1="228.10" x2="207.20" y2="228.10" stroke="#3a3a3a" stroke-width="0.9" />
<line x1="356.40" y1="228.10" x2="358.00" y2="228.10" stroke="#3a3a3a" stroke-width="0.9" />
<line x1="204.70" y1="243.60" x2="207.20" y2="243.60" stroke="#3a3a3a" stroke-width="0.9" />
<line x1="355.50" y1="243.60" x2="358.00" y2="243.60" stroke="#3a3a3a" stroke-width="0.9" />
<rect x="207.20" y="26.80" width="150.80" height="216.80" fill="none" stroke="#3a3a3a" stroke-width="1.1"/>
<line x1="207.20" y1="135.40" x2="358.00" y2="135.40" stroke="#3a3a3a" stroke-width="1.1" />
<text x="301.00" y="119.40" font-size="10" text-anchor="start" fill="#1a1a1a" font-weight="normal" >L325E</text>
<line x1="368.70" y1="26.80" x2="368.70" y2="28.90" stroke="#3a3a3a" stroke-width="0.9" />
<line x1="373.89" y1="26.80" x2="373.89" y2="30.10" stroke="#3a3a3a" stroke-width="0.9" />
<line x1="379.09" y1="26.80" x2="379.09" y2="28.90" stroke="#3a3a3a" stroke-width="0.9" />
<line x1="384.29" y1="26.80" x2="384.29" y2="30.10" stroke="#3a3a3a" stroke-width="0.9" />
<line x1="389.48" y1="26.80" x2="389.48" y2="28.90" stroke="#3a3a3a" stroke-width="0.9" />
<line x1="394.68" y1="26.80" x2="394.68" y2="30.10" stroke="#3a3a3a" stroke-width="0.9" />
<line x1="399.88" y1="26.80" x2="399.88" y2="28.90" stroke="#3a3a3a" stroke-width="0.9" />
<line x1="405.07" y1="26.80" x2="405.07" y2="30.10" stroke="#3a3a3a" stroke-width="0.9" />
<line x1="410.27" y1="26.80" x2="410.27" y2="28.90" stroke="#3a3a3a" stroke-width="0.9" />
<line x1="415.47" y1="26.80" x2="415.47" y2="30.10" stroke="#3a3a3a" stroke-width="0.9" />
<line x1="420.66" y1="26.80" x2="420.66" y2="28.90" stroke="#3a3a3a" stroke-width="0.9" />
<line x1="425.86" y1="26.80" x2="425.86" y2="30.10" stroke="#3a3a3a" stroke-width="0.9" />
<line x1="431.06" y1="26.80" x2="431.06" y2="28.90" stroke="#3a3a3a" stroke-width="0.9" />
<line x1="436.25" y1="26.80" x2="436.25" y2="30.10" stroke="#3a3a3a" stroke-width="0.9" />
<line x1="441.45" y1="26.80" x2="441.45" y2="28.90" stroke="#3a3a3a" stroke-width="0.9" />
<line x1="446.64" y1="26.80" x2="446.64" y2="30.10" stroke="#3a3a3a" stroke-width="0.9" />
<line x1="451.84" y1="26.80" x2="451.84" y2="28.90" stroke="#3a3a3a" stroke-width="0.9" />
<line x1="457.04" y1="26.80" x2="457.04" y2="30.10" stroke="#3a3a3a" stroke-width="0.9" />
<line x1="462.23" y1="26.80" x2="462.23" y2="28.90" stroke="#3a3a3a" stroke-width="0.9" />
<line x1="467.43" y1="26.80" x2="467.43" y2="30.10" stroke="#3a3a3a" stroke-width="0.9" />
<line x1="472.63" y1="26.80" x2="472.63" y2="28.90" stroke="#3a3a3a" stroke-width="0.9" />
<line x1="477.82" y1="26.80" x2="477.82" y2="30.10" stroke="#3a3a3a" stroke-width="0.9" />
<line x1="483.02" y1="26.80" x2="483.02" y2="28.90" stroke="#3a3a3a" stroke-width="0.9" />
<line x1="488.22" y1="26.80" x2="488.22" y2="30.10" stroke="#3a3a3a" stroke-width="0.9" />
<line x1="493.41" y1="26.80" x2="493.41" y2="28.90" stroke="#3a3a3a" stroke-width="0.9" />
<line x1="498.61" y1="26.80" x2="498.61" y2="30.10" stroke="#3a3a3a" stroke-width="0.9" />
<line x1="503.81" y1="26.80" x2="503.81" y2="28.90" stroke="#3a3a3a" stroke-width="0.9" />
<line x1="509.00" y1="26.80" x2="509.00" y2="30.10" stroke="#3a3a3a" stroke-width="0.9" />
<text x="363.50" y="21.90" font-size="7.0" text-anchor="middle" fill="#222" textLength="8.96" lengthAdjust="spacingAndGlyphs">-10</text>
<text x="373.89" y="21.90" font-size="7.0" text-anchor="middle" fill="#222" textLength="3.45" lengthAdjust="spacingAndGlyphs">0</text>
<text x="384.29" y="21.90" font-size="7.0" text-anchor="middle" fill="#222" textLength="6.90" lengthAdjust="spacingAndGlyphs">10</text>
<text x="394.68" y="21.90" font-size="7.0" text-anchor="middle" fill="#222" textLength="6.90" lengthAdjust="spacingAndGlyphs">20</text>
<text x="405.07" y="21.90" font-size="7.0" text-anchor="middle" fill="#222" textLength="6.90" lengthAdjust="spacingAndGlyphs">30</text>
<text x="415.47" y="21.90" font-size="7.0" text-anchor="middle" fill="#222" textLength="6.90" lengthAdjust="spacingAndGlyphs">40</text>
<text x="425.86" y="21.90" font-size="7.0" text-anchor="middle" fill="#222" textLength="6.90" lengthAdjust="spacingAndGlyphs">50</text>
<text x="436.25" y="21.90" font-size="7.0" text-anchor="middle" fill="#222" textLength="6.90" lengthAdjust="spacingAndGlyphs">60</text>
<text x="446.64" y="21.90" font-size="7.0" text-anchor="middle" fill="#222" textLength="6.90" lengthAdjust="spacingAndGlyphs">70</text>
<text x="457.04" y="21.90" font-size="7.0" text-anchor="middle" fill="#222" textLength="6.90" lengthAdjust="spacingAndGlyphs">80</text>
<text x="467.43" y="21.90" font-size="7.0" text-anchor="middle" fill="#222" textLength="6.90" lengthAdjust="spacingAndGlyphs">90</text>
<text x="477.82" y="21.90" font-size="7.0" text-anchor="middle" fill="#222" textLength="10.34" lengthAdjust="spacingAndGlyphs">100</text>
<text x="488.22" y="21.90" font-size="7.0" text-anchor="middle" fill="#222" textLength="9.88" lengthAdjust="spacingAndGlyphs">110</text>
<text x="498.61" y="21.90" font-size="7.0" text-anchor="middle" fill="#222" textLength="10.34" lengthAdjust="spacingAndGlyphs">120</text>
<text x="509.00" y="21.90" font-size="7.0" text-anchor="middle" fill="#222" textLength="10.34" lengthAdjust="spacingAndGlyphs">130</text>
<text x="438.85" y="8.87" font-size="8.3" text-anchor="middle" fill="#222" font-weight="normal" >Time (min)</text>
<line x1="360.70" y1="35.50" x2="363.50" y2="35.50" stroke="#3a3a3a" stroke-width="0.9" />
<line x1="361.70" y1="44.50" x2="363.50" y2="44.50" stroke="#3a3a3a" stroke-width="0.9" />
<line x1="360.70" y1="53.50" x2="363.50" y2="53.50" stroke="#3a3a3a" stroke-width="0.9" />
<line x1="361.70" y1="62.50" x2="363.50" y2="62.50" stroke="#3a3a3a" stroke-width="0.9" />
<line x1="360.70" y1="71.50" x2="363.50" y2="71.50" stroke="#3a3a3a" stroke-width="0.9" />
<line x1="361.70" y1="80.50" x2="363.50" y2="80.50" stroke="#3a3a3a" stroke-width="0.9" />
<line x1="360.70" y1="89.50" x2="363.50" y2="89.50" stroke="#3a3a3a" stroke-width="0.9" />
<line x1="361.70" y1="98.50" x2="363.50" y2="98.50" stroke="#3a3a3a" stroke-width="0.9" />
<line x1="360.70" y1="107.50" x2="363.50" y2="107.50" stroke="#3a3a3a" stroke-width="0.9" />
<line x1="361.70" y1="116.50" x2="363.50" y2="116.50" stroke="#3a3a3a" stroke-width="0.9" />
<line x1="360.70" y1="125.50" x2="363.50" y2="125.50" stroke="#3a3a3a" stroke-width="0.9" />
<line x1="512.60" y1="31.00" x2="514.20" y2="31.00" stroke="#3a3a3a" stroke-width="0.9" />
<line x1="511.70" y1="35.50" x2="514.20" y2="35.50" stroke="#3a3a3a" stroke-width="0.9" />
<line x1="512.60" y1="40.00" x2="514.20" y2="40.00" stroke="#3a3a3a" stroke-width="0.9" />
<line x1="512.60" y1="44.50" x2="514.20" y2="44.50" stroke="#3a3a3a" stroke-width="0.9" />
<line x1="512.60" y1="49.00" x2="514.20" y2="49.00" stroke="#3a3a3a" stroke-width="0.9" />
<line x1="511.70" y1="53.50" x2="514.20" y2="53.50" stroke="#3a3a3a" stroke-width="0.9" />
<line x1="512.60" y1="58.00" x2="514.20" y2="58.00" stroke="#3a3a3a" stroke-width="0.9" />
<line x1="512.60" y1="62.50" x2="514.20" y2="62.50" stroke="#3a3a3a" stroke-width="0.9" />
<line x1="512.60" y1="67.00" x2="514.20" y2="67.00" stroke="#3a3a3a" stroke-width="0.9" />
<line x1="511.70" y1="71.50" x2="514.20" y2="71.50" stroke="#3a3a3a" stroke-width="0.9" />
<line x1="512.60" y1="76.00" x2="514.20" y2="76.00" stroke="#3a3a3a" stroke-width="0.9" />
<line x1="512.60" y1="80.50" x2="514.20" y2="80.50" stroke="#3a3a3a" stroke-width="0.9" />
<line x1="512.60" y1="85.00" x2="514.20" y2="85.00" stroke="#3a3a3a" stroke-width="0.9" />
<line x1="511.70" y1="89.50" x2="514.20" y2="89.50" stroke="#3a3a3a" stroke-width="0.9" />
<line x1="512.60" y1="94.00" x2="514.20" y2="94.00" stroke="#3a3a3a" stroke-width="0.9" />
<line x1="512.60" y1="98.50" x2="514.20" y2="98.50" stroke="#3a3a3a" stroke-width="0.9" />
<line x1="512.60" y1="103.00" x2="514.20" y2="103.00" stroke="#3a3a3a" stroke-width="0.9" />
<line x1="511.70" y1="107.50" x2="514.20" y2="107.50" stroke="#3a3a3a" stroke-width="0.9" />
<line x1="512.60" y1="112.00" x2="514.20" y2="112.00" stroke="#3a3a3a" stroke-width="0.9" />
<line x1="512.60" y1="116.50" x2="514.20" y2="116.50" stroke="#3a3a3a" stroke-width="0.9" />
<line x1="512.60" y1="121.00" x2="514.20" y2="121.00" stroke="#3a3a3a" stroke-width="0.9" />
<line x1="511.70" y1="125.50" x2="514.20" y2="125.50" stroke="#3a3a3a" stroke-width="0.9" />
<line x1="512.60" y1="130.00" x2="514.20" y2="130.00" stroke="#3a3a3a" stroke-width="0.9" />
<line x1="385.03" y1="135.40" x2="385.03" y2="138.00" stroke="#3a3a3a" stroke-width="0.9" />
<line x1="406.56" y1="135.40" x2="406.56" y2="136.90" stroke="#3a3a3a" stroke-width="0.9" />
<line x1="428.09" y1="135.40" x2="428.09" y2="138.00" stroke="#3a3a3a" stroke-width="0.9" />
<line x1="449.61" y1="135.40" x2="449.61" y2="136.90" stroke="#3a3a3a" stroke-width="0.9" />
<line x1="471.14" y1="135.40" x2="471.14" y2="138.00" stroke="#3a3a3a" stroke-width="0.9" />
<line x1="492.67" y1="135.40" x2="492.67" y2="136.90" stroke="#3a3a3a" stroke-width="0.9" />
<line x1="385.03" y1="243.60" x2="385.03" y2="247.50" stroke="#3a3a3a" stroke-width="0.9" />
<text x="385.03" y="254.50" font-size="7.3" text-anchor="middle" fill="#222" textLength="8.34" lengthAdjust="spacingAndGlyphs">0.0</text>
<line x1="406.56" y1="243.60" x2="406.56" y2="246.30" stroke="#3a3a3a" stroke-width="0.9" />
<line x1="428.09" y1="243.60" x2="428.09" y2="247.50" stroke="#3a3a3a" stroke-width="0.9" />
<text x="428.09" y="254.50" font-size="7.3" text-anchor="middle" fill="#222" textLength="8.34" lengthAdjust="spacingAndGlyphs">0.5</text>
<line x1="449.61" y1="243.60" x2="449.61" y2="246.30" stroke="#3a3a3a" stroke-width="0.9" />
<line x1="471.14" y1="243.60" x2="471.14" y2="247.50" stroke="#3a3a3a" stroke-width="0.9" />
<text x="471.14" y="254.50" font-size="7.3" text-anchor="middle" fill="#222" textLength="8.34" lengthAdjust="spacingAndGlyphs">1.0</text>
<line x1="492.67" y1="243.60" x2="492.67" y2="246.30" stroke="#3a3a3a" stroke-width="0.9" />
<line x1="514.20" y1="243.60" x2="514.20" y2="247.50" stroke="#3a3a3a" stroke-width="0.9" />
<text x="514.20" y="254.50" font-size="7.3" text-anchor="middle" fill="#222" textLength="8.34" lengthAdjust="spacingAndGlyphs">1.5</text>
<text x="438.85" y="266.80" font-size="8.8" text-anchor="middle" fill="#222" font-weight="normal" >Molar Ratio</text>
<line x1="361.00" y1="150.60" x2="363.50" y2="150.60" stroke="#3a3a3a" stroke-width="0.9" />
<line x1="511.70" y1="150.60" x2="514.20" y2="150.60" stroke="#3a3a3a" stroke-width="0.9" />
<line x1="361.00" y1="166.10" x2="363.50" y2="166.10" stroke="#3a3a3a" stroke-width="0.9" />
<line x1="512.60" y1="166.10" x2="514.20" y2="166.10" stroke="#3a3a3a" stroke-width="0.9" />
<line x1="361.00" y1="181.60" x2="363.50" y2="181.60" stroke="#3a3a3a" stroke-width="0.9" />
<line x1="511.70" y1="181.60" x2="514.20" y2="181.60" stroke="#3a3a3a" stroke-width="0.9" />
<line x1="361.00" y1="197.10" x2="363.50" y2="197.10" stroke="#3a3a3a" stroke-width="0.9" />
<line x1="512.60" y1="197.10" x2="514.20" y2="197.10" stroke="#3a3a3a" stroke-width="0.9" />
<line x1="361.00" y1="212.60" x2="363.50" y2="212.60" stroke="#3a3a3a" stroke-width="0.9" />
<line x1="511.70" y1="212.60" x2="514.20" y2="212.60" stroke="#3a3a3a" stroke-width="0.9" />
<line x1="361.00" y1="228.10" x2="363.50" y2="228.10" stroke="#3a3a3a" stroke-width="0.9" />
<line x1="512.60" y1="228.10" x2="514.20" y2="228.10" stroke="#3a3a3a" stroke-width="0.9" />
<line x1="361.00" y1="243.60" x2="363.50" y2="243.60" stroke="#3a3a3a" stroke-width="0.9" />
<line x1="511.70" y1="243.60" x2="514.20" y2="243.60" stroke="#3a3a3a" stroke-width="0.9" />
<rect x="363.50" y="26.80" width="150.70" height="216.80" fill="none" stroke="#3a3a3a" stroke-width="1.1"/>
<line x1="363.50" y1="135.40" x2="514.20" y2="135.40" stroke="#3a3a3a" stroke-width="1.1" />
<text x="459.50" y="119.20" font-size="10" text-anchor="start" fill="#1a1a1a" font-weight="normal" >F332A</text>
<text x="26.90" y="84.50" font-size="8.4" text-anchor="middle" fill="#222" font-weight="normal" transform="rotate(-90 26.90 84.50)" >µcal/sec</text>
<text x="31.30" y="194.00" font-size="8.4" text-anchor="middle" fill="#222" font-weight="normal" transform="rotate(-90 31.30 194.00)" >kcal/mole of injectant</text>
<polygon points="62.90,34.70 63.30,126.50 64.10,126.50 64.50,34.70" fill="#6c6c6c"/>
<polygon points="67.21,34.70 67.61,122.60 68.41,122.60 68.81,34.70" fill="#6c6c6c"/>
<polygon points="71.52,34.70 71.92,117.80 72.72,117.80 73.12,34.70" fill="#6c6c6c"/>
<polygon points="75.83,34.70 76.23,113.50 77.03,113.50 77.43,34.70" fill="#6c6c6c"/>
<polygon points="80.14,34.70 80.54,108.80 81.34,108.80 81.74,34.70" fill="#6c6c6c"/>
<polygon points="84.45,34.70 84.85,104.10 85.65,104.10 86.05,34.70" fill="#6c6c6c"/>
<polygon points="88.76,34.70 89.16,98.70 89.96,98.70 90.36,34.70" fill="#6c6c6c"/>
<polygon points="93.07,34.70 93.47,93.30 94.27,93.30 94.67,34.70" fill="#6c6c6c"/>
<polygon points="97.38,34.70 97.78,88.00 98.58,88.00 98.98,34.70" fill="#6c6c6c"/>
<polygon points="101.69,34.70 102.09,83.50 102.89,83.50 103.29,34.70" fill="#6c6c6c"/>
<polygon points="106.00,34.70 106.40,78.10 107.20,78.10 107.60,34.70" fill="#6c6c6c"/>
<polygon points="110.31,34.70 110.71,72.80 111.51,72.80 111.91,34.70" fill="#6c6c6c"/>
<polygon points="114.62,34.70 115.02,67.20 115.82,67.20 116.22,34.70" fill="#6c6c6c"/>
<polygon points="118.93,34.70 119.33,62.00 120.13,62.00 120.53,34.70" fill="#6c6c6c"/>
<polygon points="123.24,34.70 123.64,56.80 124.44,56.80 124.84,34.70" fill="#6c6c6c"/>
<polygon points="127.55,34.70 127.95,52.50 128.75,52.50 129.15,34.70" fill="#6c6c6c"/>
<polygon points="131.86,34.70 132.26,49.60 133.06,49.60 133.46,34.70" fill="#6c6c6c"/>
<polygon points="136.17,34.70 136.57,46.80 137.37,46.80 137.77,34.70" fill="#6c6c6c"/>
<polygon points="140.48,34.70 140.88,44.60 141.68,44.60 142.08,34.70" fill="#6c6c6c"/>
<polygon points="144.79,34.70 145.19,43.10 145.99,43.10 146.39,34.70" fill="#6c6c6c"/>
<polygon points="149.10,34.70 149.50,42.40 150.30,42.40 150.70,34.70" fill="#6c6c6c"/>
<polygon points="153.41,34.70 153.81,41.70 154.61,41.70 155.01,34.70" fill="#6c6c6c"/>
<polygon points="157.72,34.70 158.12,41.00 158.92,41.00 159.32,34.70" fill="#6c6c6c"/>
<polygon points="162.03,34.70 162.43,40.70 163.23,40.70 163.63,34.70" fill="#6c6c6c"/>
<polygon points="166.34,34.70 166.74,40.30 167.54,40.30 167.94,34.70" fill="#6c6c6c"/>
<polygon points="170.65,34.70 171.05,39.80 171.85,39.80 172.25,34.70" fill="#6c6c6c"/>
<polygon points="174.96,34.70 175.36,39.50 176.16,39.50 176.56,34.70" fill="#6c6c6c"/>
<polygon points="179.27,34.70 179.67,39.20 180.47,39.20 180.87,34.70" fill="#6c6c6c"/>
<line x1="58.00" y1="34.70" x2="183.50" y2="34.70" stroke="#555" stroke-width="1.0"/>
<polygon points="222.20,35.40 222.60,72.00 223.40,72.00 223.80,35.40" fill="#6c6c6c"/>
<polygon points="226.51,35.40 226.91,73.40 227.71,73.40 228.11,35.40" fill="#6c6c6c"/>
<polygon points="230.82,35.40 231.22,71.30 232.02,71.30 232.42,35.40" fill="#6c6c6c"/>
<polygon points="235.13,35.40 235.53,69.80 236.33,69.80 236.73,35.40" fill="#6c6c6c"/>
<polygon points="239.44,35.40 239.84,68.40 240.64,68.40 241.04,35.40" fill="#6c6c6c"/>
<polygon points="243.75,35.40 244.15,66.20 244.95,66.20 245.35,35.40" fill="#6c6c6c"/>
<polygon points="248.06,35.40 248.46,64.80 249.26,64.80 249.66,35.40" fill="#6c6c6c"/>
<polygon points="252.37,35.40 252.77,62.60 253.57,62.60 253.97,35.40" fill="#6c6c6c"/>
<polygon points="256.68,35.40 257.08,61.20 257.88,61.20 258.28,35.40" fill="#6c6c6c"/>
<polygon points="260.99,35.40 261.39,59.70 262.19,59.70 262.59,35.40" fill="#6c6c6c"/>
<polygon points="265.30,35.40 265.70,58.30 266.50,58.30 266.90,35.40" fill="#6c6c6c"/>
<polygon points="269.61,35.40 270.01,56.80 270.81,56.80 271.21,35.40" fill="#6c6c6c"/>
<polygon points="273.92,35.40 274.32,55.40 275.12,55.40 275.52,35.40" fill="#6c6c6c"/>
<polygon points="278.23,35.40 278.63,54.20 279.43,54.20 279.83,35.40" fill="#6c6c6c"/>
<polygon points="282.54,35.40 282.94,53.00 283.74,53.00 284.14,35.40" fill="#6c6c6c"/>
<polygon points="286.85,35.40 287.25,52.00 288.05,52.00 288.45,35.40" fill="#6c6c6c"/>
<polygon points="291.16,35.40 291.56,51.10 292.36,51.10 292.76,35.40" fill="#6c6c6c"/>
<polygon points="295.47,35.40 295.87,50.40 296.67,50.40 297.07,35.40" fill="#6c6c6c"/>
<polygon points="299.78,35.40 300.18,49.60 300.98,49.60 301.38,35.40" fill="#6c6c6c"/>
<polygon points="304.09,35.40 304.49,48.90 305.29,48.90 305.69,35.40" fill="#6c6c6c"/>
<polygon points="308.40,35.40 308.80,48.20 309.60,48.20 310.00,35.40" fill="#6c6c6c"/>
<polygon points="312.71,35.40 313.11,47.50 313.91,47.50 314.31,35.40" fill="#6c6c6c"/>
<polygon points="317.02,35.40 317.42,46.80 318.22,46.80 318.62,35.40" fill="#6c6c6c"/>
<polygon points="321.33,35.40 321.73,46.50 322.53,46.50 322.93,35.40" fill="#6c6c6c"/>
<polygon points="325.64,35.40 326.04,46.00 326.84,46.00 327.24,35.40" fill="#6c6c6c"/>
<polygon points="329.95,35.40 330.35,45.30 331.15,45.30 331.55,35.40" fill="#6c6c6c"/>
<polygon points="334.26,35.40 334.66,45.00 335.46,45.00 335.86,35.40" fill="#6c6c6c"/>
<polygon points="338.57,35.40 338.97,44.60 339.77,44.60 340.17,35.40" fill="#6c6c6c"/>
<line x1="217.90" y1="35.40" x2="342.70" y2="35.40" stroke="#555" stroke-width="1.0"/>
<polygon points="377.80,35.50 378.20,54.00 379.00,54.00 379.40,35.50" fill="#6c6c6c"/>
<polygon points="381.97,35.50 382.37,60.50 383.17,60.50 383.57,35.50" fill="#6c6c6c"/>
<polygon points="386.13,35.50 386.53,59.70 387.33,59.70 387.73,35.50" fill="#6c6c6c"/>
<polygon points="390.30,35.50 390.70,59.00 391.50,59.00 391.90,35.50" fill="#6c6c6c"/>
<polygon points="394.46,35.50 394.86,57.60 395.66,57.60 396.06,35.50" fill="#6c6c6c"/>
<polygon points="398.62,35.50 399.03,55.40 399.82,55.40 400.23,35.50" fill="#6c6c6c"/>
<polygon points="402.79,35.50 403.19,54.70 403.99,54.70 404.39,35.50" fill="#6c6c6c"/>
<polygon points="406.96,35.50 407.36,54.00 408.16,54.00 408.56,35.50" fill="#6c6c6c"/>
<polygon points="411.12,35.50 411.52,53.20 412.32,53.20 412.72,35.50" fill="#6c6c6c"/>
<polygon points="415.29,35.50 415.69,52.50 416.49,52.50 416.89,35.50" fill="#6c6c6c"/>
<polygon points="419.45,35.50 419.85,52.20 420.65,52.20 421.05,35.50" fill="#6c6c6c"/>
<polygon points="423.62,35.50 424.02,51.80 424.81,51.80 425.22,35.50" fill="#6c6c6c"/>
<polygon points="427.78,35.50 428.18,51.40 428.98,51.40 429.38,35.50" fill="#6c6c6c"/>
<polygon points="431.94,35.50 432.35,50.80 433.14,50.80 433.55,35.50" fill="#6c6c6c"/>
<polygon points="436.11,35.50 436.51,50.40 437.31,50.40 437.71,35.50" fill="#6c6c6c"/>
<polygon points="440.28,35.50 440.68,49.60 441.48,49.60 441.88,35.50" fill="#6c6c6c"/>
<polygon points="444.44,35.50 444.84,49.30 445.64,49.30 446.04,35.50" fill="#6c6c6c"/>
<polygon points="448.61,35.50 449.01,48.50 449.81,48.50 450.21,35.50" fill="#6c6c6c"/>
<polygon points="452.77,35.50 453.17,47.90 453.97,47.90 454.37,35.50" fill="#6c6c6c"/>
<polygon points="456.94,35.50 457.34,47.50 458.13,47.50 458.54,35.50" fill="#6c6c6c"/>
<polygon points="461.10,35.50 461.50,47.50 462.30,47.50 462.70,35.50" fill="#6c6c6c"/>
<polygon points="465.26,35.50 465.67,47.00 466.46,47.00 466.87,35.50" fill="#6c6c6c"/>
<polygon points="469.43,35.50 469.83,46.80 470.63,46.80 471.03,35.50" fill="#6c6c6c"/>
<polygon points="473.60,35.50 474.00,46.50 474.80,46.50 475.20,35.50" fill="#6c6c6c"/>
<polygon points="477.76,35.50 478.16,46.80 478.96,46.80 479.36,35.50" fill="#6c6c6c"/>
<polygon points="481.93,35.50 482.33,46.00 483.12,46.00 483.53,35.50" fill="#6c6c6c"/>
<polygon points="486.09,35.50 486.49,45.60 487.29,45.60 487.69,35.50" fill="#6c6c6c"/>
<polygon points="490.25,35.50 490.66,45.30 491.45,45.30 491.86,35.50" fill="#6c6c6c"/>
<polygon points="494.42,35.50 494.82,45.00 495.62,45.00 496.02,35.50" fill="#6c6c6c"/>
<line x1="373.90" y1="35.50" x2="499.20" y2="35.50" stroke="#555" stroke-width="1.0"/>
<path d="M68.00,231.50 L75.00,226.00 L82.00,219.00 L90.00,210.50 L98.00,201.50 L106.00,192.50 L114.00,183.00 L120.00,176.00 L126.00,168.50 L132.00,162.80 L138.00,158.80 L144.00,156.20 L150.00,154.60 L158.00,153.60 L166.00,153.00 L175.00,152.60 L183.00,152.40" fill="none" stroke="#777" stroke-width="0.6"/>
<path d="M226.00,175.60 L240.00,173.20 L255.00,169.30 L270.00,165.50 L285.00,162.30 L300.00,159.60 L315.00,157.60 L330.00,156.20 L345.00,155.10" fill="none" stroke="#777" stroke-width="0.6"/>
<path d="M386.50,170.60 L392.00,171.00 L398.00,169.40 L404.00,167.20 L410.00,165.40 L418.00,164.00 L428.00,162.80 L440.00,161.80 L455.00,161.00 L470.00,160.50 L487.00,160.20" fill="none" stroke="#777" stroke-width="0.6"/>
<rect x="67.80" y="228.00" width="3.6" height="3.6" fill="#0a0a0a"/>
<rect x="71.90" y="224.90" width="3.6" height="3.6" fill="#0a0a0a"/>
<rect x="75.80" y="222.20" width="3.6" height="3.6" fill="#0a0a0a"/>
<rect x="79.90" y="216.60" width="3.6" height="3.6" fill="#0a0a0a"/>
<rect x="84.20" y="212.80" width="3.6" height="3.6" fill="#0a0a0a"/>
<rect x="88.40" y="208.00" width="3.6" height="3.6" fill="#0a0a0a"/>
<rect x="92.50" y="204.20" width="3.6" height="3.6" fill="#0a0a0a"/>
<rect x="96.60" y="199.40" width="3.6" height="3.6" fill="#0a0a0a"/>
<rect x="100.80" y="194.70" width="3.6" height="3.6" fill="#0a0a0a"/>
<rect x="105.00" y="189.80" width="3.6" height="3.6" fill="#0a0a0a"/>
<rect x="109.30" y="184.40" width="3.6" height="3.6" fill="#0a0a0a"/>
<rect x="113.60" y="178.60" width="3.6" height="3.6" fill="#0a0a0a"/>
<rect x="118.00" y="173.80" width="3.6" height="3.6" fill="#0a0a0a"/>
<rect x="122.40" y="168.20" width="3.6" height="3.6" fill="#0a0a0a"/>
<rect x="126.70" y="163.60" width="3.6" height="3.6" fill="#0a0a0a"/>
<rect x="131.00" y="160.30" width="3.6" height="3.6" fill="#0a0a0a"/>
<rect x="135.50" y="157.80" width="3.6" height="3.6" fill="#0a0a0a"/>
<rect x="144.40" y="153.20" width="3.6" height="3.6" fill="#0a0a0a"/>
<rect x="149.00" y="152.70" width="3.6" height="3.6" fill="#0a0a0a"/>
<rect x="153.60" y="152.00" width="3.6" height="3.6" fill="#0a0a0a"/>
<rect x="158.20" y="151.30" width="3.6" height="3.6" fill="#0a0a0a"/>
<rect x="162.70" y="151.60" width="3.6" height="3.6" fill="#0a0a0a"/>
<rect x="167.40" y="150.60" width="3.6" height="3.6" fill="#0a0a0a"/>
<rect x="172.00" y="150.50" width="3.6" height="3.6" fill="#0a0a0a"/>
<rect x="176.70" y="150.50" width="3.6" height="3.6" fill="#0a0a0a"/>
<rect x="225.90" y="173.60" width="3.6" height="3.6" fill="#0a0a0a"/>
<rect x="230.20" y="173.10" width="3.6" height="3.6" fill="#0a0a0a"/>
<rect x="234.50" y="172.00" width="3.6" height="3.6" fill="#0a0a0a"/>
<rect x="238.70" y="171.60" width="3.6" height="3.6" fill="#0a0a0a"/>
<rect x="242.80" y="170.00" width="3.6" height="3.6" fill="#0a0a0a"/>
<rect x="247.10" y="169.30" width="3.6" height="3.6" fill="#0a0a0a"/>
<rect x="251.60" y="167.60" width="3.6" height="3.6" fill="#0a0a0a"/>
<rect x="255.90" y="165.90" width="3.6" height="3.6" fill="#0a0a0a"/>
<rect x="260.00" y="165.60" width="3.6" height="3.6" fill="#0a0a0a"/>
<rect x="264.40" y="164.70" width="3.6" height="3.6" fill="#0a0a0a"/>
<rect x="268.90" y="162.80" width="3.6" height="3.6" fill="#0a0a0a"/>
<rect x="273.20" y="163.00" width="3.6" height="3.6" fill="#0a0a0a"/>
<rect x="277.80" y="161.10" width="3.6" height="3.6" fill="#0a0a0a"/>
<rect x="282.30" y="161.10" width="3.6" height="3.6" fill="#0a0a0a"/>
<rect x="286.80" y="159.30" width="3.6" height="3.6" fill="#0a0a0a"/>
<rect x="291.40" y="158.00" width="3.6" height="3.6" fill="#0a0a0a"/>
<rect x="300.50" y="157.40" width="3.6" height="3.6" fill="#0a0a0a"/>
<rect x="305.30" y="156.90" width="3.6" height="3.6" fill="#0a0a0a"/>
<rect x="309.90" y="156.20" width="3.6" height="3.6" fill="#0a0a0a"/>
<rect x="314.60" y="156.20" width="3.6" height="3.6" fill="#0a0a0a"/>
<rect x="319.40" y="154.70" width="3.6" height="3.6" fill="#0a0a0a"/>
<rect x="338.50" y="153.40" width="3.6" height="3.6" fill="#0a0a0a"/>
<rect x="343.10" y="153.80" width="3.6" height="3.6" fill="#0a0a0a"/>
<rect x="388.10" y="172.00" width="3.6" height="3.6" fill="#0a0a0a"/>
<rect x="390.90" y="170.50" width="3.6" height="3.6" fill="#0a0a0a"/>
<rect x="394.00" y="169.00" width="3.6" height="3.6" fill="#0a0a0a"/>
<rect x="396.70" y="167.70" width="3.6" height="3.6" fill="#0a0a0a"/>
<rect x="399.40" y="166.40" width="3.6" height="3.6" fill="#0a0a0a"/>
<rect x="402.40" y="165.10" width="3.6" height="3.6" fill="#0a0a0a"/>
<rect x="405.50" y="164.00" width="3.6" height="3.6" fill="#0a0a0a"/>
<rect x="408.60" y="163.30" width="3.6" height="3.6" fill="#0a0a0a"/>
<rect x="412.40" y="162.80" width="3.6" height="3.6" fill="#0a0a0a"/>
<rect x="416.30" y="162.50" width="3.6" height="3.6" fill="#0a0a0a"/>
<rect x="419.40" y="162.40" width="3.6" height="3.6" fill="#0a0a0a"/>
<rect x="422.40" y="162.00" width="3.6" height="3.6" fill="#0a0a0a"/>
<rect x="426.30" y="160.70" width="3.6" height="3.6" fill="#0a0a0a"/>
<rect x="429.40" y="160.80" width="3.6" height="3.6" fill="#0a0a0a"/>
<rect x="432.30" y="160.30" width="3.6" height="3.6" fill="#0a0a0a"/>
<rect x="435.60" y="159.40" width="3.6" height="3.6" fill="#0a0a0a"/>
<rect x="442.90" y="159.40" width="3.6" height="3.6" fill="#0a0a0a"/>
<rect x="446.20" y="160.30" width="3.6" height="3.6" fill="#0a0a0a"/>
<rect x="453.50" y="159.40" width="3.6" height="3.6" fill="#0a0a0a"/>
<rect x="456.80" y="158.60" width="3.6" height="3.6" fill="#0a0a0a"/>
<rect x="460.10" y="159.40" width="3.6" height="3.6" fill="#0a0a0a"/>
<rect x="464.20" y="159.10" width="3.6" height="3.6" fill="#0a0a0a"/>
<rect x="472.00" y="158.20" width="3.6" height="3.6" fill="#0a0a0a"/>
<rect x="475.60" y="158.20" width="3.6" height="3.6" fill="#0a0a0a"/>
<rect x="479.70" y="158.20" width="3.6" height="3.6" fill="#0a0a0a"/>
<rect x="483.80" y="158.40" width="3.6" height="3.6" fill="#0a0a0a"/>
<rect x="109.40" y="210.00" width="81.40" height="26.20" fill="#2a2a2a"/>
<rect x="108.00" y="208.60" width="81.40" height="26.20" fill="#fff" stroke="#555" stroke-width="0.7"/>
<text x="110.40" y="218.50" font-size="8.9" text-anchor="start" fill="#111" font-weight="normal" >N</text>
<text x="110.40" y="230.90" font-size="8.9" text-anchor="start" fill="#111" font-weight="normal" >K<tspan font-size="5.8" dy="2.6">d</tspan></text>
<text x="129.20" y="218.50" font-size="8.9" fill="#111" textLength="52.47" lengthAdjust="spacingAndGlyphs">1.02 ± 0.18</text>
<text x="129.20" y="230.90" font-size="8.9" fill="#111" textLength="40.79" lengthAdjust="spacingAndGlyphs">7 ± 2 µM</text>
<rect x="254.70" y="210.00" width="94.60" height="25.80" fill="#2a2a2a"/>
<rect x="253.30" y="208.60" width="94.60" height="25.80" fill="#fff" stroke="#555" stroke-width="0.7"/>
<text x="256.20" y="218.50" font-size="8.9" text-anchor="start" fill="#111" font-weight="normal" >N</text>
<text x="256.20" y="230.90" font-size="8.9" text-anchor="start" fill="#111" font-weight="normal" >K<tspan font-size="5.8" dy="2.6">d</tspan></text>
<text x="274.60" y="218.50" font-size="8.9" fill="#111" textLength="52.47" lengthAdjust="spacingAndGlyphs">1.18 ± 0.02</text>
<text x="274.60" y="230.90" font-size="8.9" fill="#111" textLength="46.60" lengthAdjust="spacingAndGlyphs">34 ± 1 µM</text>
<rect x="417.40" y="210.00" width="89.60" height="25.60" fill="#2a2a2a"/>
<rect x="416.00" y="208.60" width="89.60" height="25.60" fill="#fff" stroke="#555" stroke-width="0.7"/>
<text x="418.90" y="218.50" font-size="8.9" text-anchor="start" fill="#111" font-weight="normal" >N</text>
<text x="418.90" y="230.90" font-size="8.9" text-anchor="start" fill="#111" font-weight="normal" >K<tspan font-size="5.8" dy="2.6">d</tspan></text>
<text x="436.90" y="218.50" font-size="8.9" fill="#111" textLength="40.58" lengthAdjust="spacingAndGlyphs">fixed to 1</text>
<text x="436.90" y="230.90" font-size="8.9" fill="#111" textLength="59.50" lengthAdjust="spacingAndGlyphs">493± 135 µM</text>
<text x="0.60" y="14.60" font-size="18" text-anchor="start" fill="#000" font-weight="bold" >A</text>
<text x="0.40" y="299.40" font-size="16.8" text-anchor="start" fill="#000" font-weight="bold" >B</text>
<rect x="44.2" y="292.7" width="236.00" height="255.60" fill="none" stroke="#222" stroke-width="0.9"/>
<line x1="52.37" y1="291.40" x2="52.37" y2="294.00" stroke="#222" stroke-width="0.8"/>
<line x1="52.37" y1="547.00" x2="52.37" y2="549.60" stroke="#222" stroke-width="0.8"/>
<line x1="61.81" y1="291.40" x2="61.81" y2="294.00" stroke="#222" stroke-width="0.8"/>
<line x1="61.81" y1="547.00" x2="61.81" y2="549.60" stroke="#222" stroke-width="0.8"/>
<line x1="71.25" y1="291.40" x2="71.25" y2="294.00" stroke="#222" stroke-width="0.8"/>
<line x1="71.25" y1="547.00" x2="71.25" y2="549.60" stroke="#222" stroke-width="0.8"/>
<line x1="80.69" y1="291.40" x2="80.69" y2="294.00" stroke="#222" stroke-width="0.8"/>
<line x1="80.69" y1="547.00" x2="80.69" y2="549.60" stroke="#222" stroke-width="0.8"/>
<line x1="90.13" y1="291.40" x2="90.13" y2="294.00" stroke="#222" stroke-width="0.8"/>
<line x1="90.13" y1="547.00" x2="90.13" y2="549.60" stroke="#222" stroke-width="0.8"/>
<line x1="99.57" y1="291.40" x2="99.57" y2="294.00" stroke="#222" stroke-width="0.8"/>
<line x1="99.57" y1="547.00" x2="99.57" y2="549.60" stroke="#222" stroke-width="0.8"/>
<line x1="109.01" y1="291.40" x2="109.01" y2="294.00" stroke="#222" stroke-width="0.8"/>
<line x1="109.01" y1="547.00" x2="109.01" y2="549.60" stroke="#222" stroke-width="0.8"/>
<line x1="118.45" y1="291.40" x2="118.45" y2="294.00" stroke="#222" stroke-width="0.8"/>
<line x1="118.45" y1="547.00" x2="118.45" y2="549.60" stroke="#222" stroke-width="0.8"/>
<line x1="127.89" y1="291.40" x2="127.89" y2="294.00" stroke="#222" stroke-width="0.8"/>
<line x1="127.89" y1="547.00" x2="127.89" y2="549.60" stroke="#222" stroke-width="0.8"/>
<line x1="137.33" y1="291.40" x2="137.33" y2="294.00" stroke="#222" stroke-width="0.8"/>
<line x1="137.33" y1="547.00" x2="137.33" y2="549.60" stroke="#222" stroke-width="0.8"/>
<line x1="146.77" y1="291.40" x2="146.77" y2="294.00" stroke="#222" stroke-width="0.8"/>
<line x1="146.77" y1="547.00" x2="146.77" y2="549.60" stroke="#222" stroke-width="0.8"/>
<line x1="156.21" y1="291.40" x2="156.21" y2="294.00" stroke="#222" stroke-width="0.8"/>
<line x1="156.21" y1="547.00" x2="156.21" y2="549.60" stroke="#222" stroke-width="0.8"/>
<line x1="165.65" y1="291.40" x2="165.65" y2="294.00" stroke="#222" stroke-width="0.8"/>
<line x1="165.65" y1="547.00" x2="165.65" y2="549.60" stroke="#222" stroke-width="0.8"/>
<line x1="175.09" y1="291.40" x2="175.09" y2="294.00" stroke="#222" stroke-width="0.8"/>
<line x1="175.09" y1="547.00" x2="175.09" y2="549.60" stroke="#222" stroke-width="0.8"/>
<line x1="184.53" y1="291.40" x2="184.53" y2="294.00" stroke="#222" stroke-width="0.8"/>
<line x1="184.53" y1="547.00" x2="184.53" y2="549.60" stroke="#222" stroke-width="0.8"/>
<line x1="193.97" y1="291.40" x2="193.97" y2="294.00" stroke="#222" stroke-width="0.8"/>
<line x1="193.97" y1="547.00" x2="193.97" y2="549.60" stroke="#222" stroke-width="0.8"/>
<line x1="203.41" y1="291.40" x2="203.41" y2="294.00" stroke="#222" stroke-width="0.8"/>
<line x1="203.41" y1="547.00" x2="203.41" y2="549.60" stroke="#222" stroke-width="0.8"/>
<line x1="212.85" y1="291.40" x2="212.85" y2="294.00" stroke="#222" stroke-width="0.8"/>
<line x1="212.85" y1="547.00" x2="212.85" y2="549.60" stroke="#222" stroke-width="0.8"/>
<line x1="222.29" y1="291.40" x2="222.29" y2="294.00" stroke="#222" stroke-width="0.8"/>
<line x1="222.29" y1="547.00" x2="222.29" y2="549.60" stroke="#222" stroke-width="0.8"/>
<line x1="231.73" y1="291.40" x2="231.73" y2="294.00" stroke="#222" stroke-width="0.8"/>
<line x1="231.73" y1="547.00" x2="231.73" y2="549.60" stroke="#222" stroke-width="0.8"/>
<line x1="241.17" y1="291.40" x2="241.17" y2="294.00" stroke="#222" stroke-width="0.8"/>
<line x1="241.17" y1="547.00" x2="241.17" y2="549.60" stroke="#222" stroke-width="0.8"/>
<line x1="250.61" y1="291.40" x2="250.61" y2="294.00" stroke="#222" stroke-width="0.8"/>
<line x1="250.61" y1="547.00" x2="250.61" y2="549.60" stroke="#222" stroke-width="0.8"/>
<line x1="260.05" y1="291.40" x2="260.05" y2="294.00" stroke="#222" stroke-width="0.8"/>
<line x1="260.05" y1="547.00" x2="260.05" y2="549.60" stroke="#222" stroke-width="0.8"/>
<line x1="269.49" y1="291.40" x2="269.49" y2="294.00" stroke="#222" stroke-width="0.8"/>
<line x1="269.49" y1="547.00" x2="269.49" y2="549.60" stroke="#222" stroke-width="0.8"/>
<line x1="278.93" y1="291.40" x2="278.93" y2="294.00" stroke="#222" stroke-width="0.8"/>
<line x1="278.93" y1="547.00" x2="278.93" y2="549.60" stroke="#222" stroke-width="0.8"/>
<line x1="42.60" y1="294.92" x2="44.70" y2="294.92" stroke="#222" stroke-width="0.8"/>
<line x1="279.70" y1="294.92" x2="281.80" y2="294.92" stroke="#222" stroke-width="0.8"/>
<line x1="42.60" y1="304.39" x2="44.70" y2="304.39" stroke="#222" stroke-width="0.8"/>
<line x1="279.70" y1="304.39" x2="281.80" y2="304.39" stroke="#222" stroke-width="0.8"/>
<line x1="42.60" y1="313.86" x2="44.70" y2="313.86" stroke="#222" stroke-width="0.8"/>
<line x1="279.70" y1="313.86" x2="281.80" y2="313.86" stroke="#222" stroke-width="0.8"/>
<line x1="42.60" y1="323.33" x2="44.70" y2="323.33" stroke="#222" stroke-width="0.8"/>
<line x1="279.70" y1="323.33" x2="281.80" y2="323.33" stroke="#222" stroke-width="0.8"/>
<line x1="42.60" y1="332.80" x2="44.70" y2="332.80" stroke="#222" stroke-width="0.8"/>
<line x1="279.70" y1="332.80" x2="281.80" y2="332.80" stroke="#222" stroke-width="0.8"/>
<line x1="42.60" y1="342.27" x2="44.70" y2="342.27" stroke="#222" stroke-width="0.8"/>
<line x1="279.70" y1="342.27" x2="281.80" y2="342.27" stroke="#222" stroke-width="0.8"/>
<line x1="42.60" y1="351.74" x2="44.70" y2="351.74" stroke="#222" stroke-width="0.8"/>
<line x1="279.70" y1="351.74" x2="281.80" y2="351.74" stroke="#222" stroke-width="0.8"/>
<line x1="42.60" y1="361.21" x2="44.70" y2="361.21" stroke="#222" stroke-width="0.8"/>
<line x1="279.70" y1="361.21" x2="281.80" y2="361.21" stroke="#222" stroke-width="0.8"/>
<line x1="42.60" y1="370.68" x2="44.70" y2="370.68" stroke="#222" stroke-width="0.8"/>
<line x1="279.70" y1="370.68" x2="281.80" y2="370.68" stroke="#222" stroke-width="0.8"/>
<line x1="42.60" y1="380.15" x2="44.70" y2="380.15" stroke="#222" stroke-width="0.8"/>
<line x1="279.70" y1="380.15" x2="281.80" y2="380.15" stroke="#222" stroke-width="0.8"/>
<line x1="42.60" y1="389.62" x2="44.70" y2="389.62" stroke="#222" stroke-width="0.8"/>
<line x1="279.70" y1="389.62" x2="281.80" y2="389.62" stroke="#222" stroke-width="0.8"/>
<line x1="42.60" y1="399.09" x2="44.70" y2="399.09" stroke="#222" stroke-width="0.8"/>
<line x1="279.70" y1="399.09" x2="281.80" y2="399.09" stroke="#222" stroke-width="0.8"/>
<line x1="42.60" y1="408.56" x2="44.70" y2="408.56" stroke="#222" stroke-width="0.8"/>
<line x1="279.70" y1="408.56" x2="281.80" y2="408.56" stroke="#222" stroke-width="0.8"/>
<line x1="42.60" y1="418.03" x2="44.70" y2="418.03" stroke="#222" stroke-width="0.8"/>
<line x1="279.70" y1="418.03" x2="281.80" y2="418.03" stroke="#222" stroke-width="0.8"/>
<line x1="42.60" y1="427.50" x2="44.70" y2="427.50" stroke="#222" stroke-width="0.8"/>
<line x1="279.70" y1="427.50" x2="281.80" y2="427.50" stroke="#222" stroke-width="0.8"/>
<line x1="42.60" y1="436.97" x2="44.70" y2="436.97" stroke="#222" stroke-width="0.8"/>
<line x1="279.70" y1="436.97" x2="281.80" y2="436.97" stroke="#222" stroke-width="0.8"/>
<line x1="42.60" y1="446.44" x2="44.70" y2="446.44" stroke="#222" stroke-width="0.8"/>
<line x1="279.70" y1="446.44" x2="281.80" y2="446.44" stroke="#222" stroke-width="0.8"/>
<line x1="42.60" y1="455.91" x2="44.70" y2="455.91" stroke="#222" stroke-width="0.8"/>
<line x1="279.70" y1="455.91" x2="281.80" y2="455.91" stroke="#222" stroke-width="0.8"/>
<line x1="42.60" y1="465.38" x2="44.70" y2="465.38" stroke="#222" stroke-width="0.8"/>
<line x1="279.70" y1="465.38" x2="281.80" y2="465.38" stroke="#222" stroke-width="0.8"/>
<line x1="42.60" y1="474.85" x2="44.70" y2="474.85" stroke="#222" stroke-width="0.8"/>
<line x1="279.70" y1="474.85" x2="281.80" y2="474.85" stroke="#222" stroke-width="0.8"/>
<line x1="42.60" y1="484.32" x2="44.70" y2="484.32" stroke="#222" stroke-width="0.8"/>
<line x1="279.70" y1="484.32" x2="281.80" y2="484.32" stroke="#222" stroke-width="0.8"/>
<line x1="42.60" y1="493.79" x2="44.70" y2="493.79" stroke="#222" stroke-width="0.8"/>
<line x1="279.70" y1="493.79" x2="281.80" y2="493.79" stroke="#222" stroke-width="0.8"/>
<line x1="42.60" y1="503.26" x2="44.70" y2="503.26" stroke="#222" stroke-width="0.8"/>
<line x1="279.70" y1="503.26" x2="281.80" y2="503.26" stroke="#222" stroke-width="0.8"/>
<line x1="42.60" y1="512.73" x2="44.70" y2="512.73" stroke="#222" stroke-width="0.8"/>
<line x1="279.70" y1="512.73" x2="281.80" y2="512.73" stroke="#222" stroke-width="0.8"/>
<line x1="42.60" y1="522.20" x2="44.70" y2="522.20" stroke="#222" stroke-width="0.8"/>
<line x1="279.70" y1="522.20" x2="281.80" y2="522.20" stroke="#222" stroke-width="0.8"/>
<line x1="42.60" y1="531.67" x2="44.70" y2="531.67" stroke="#222" stroke-width="0.8"/>
<line x1="279.70" y1="531.67" x2="281.80" y2="531.67" stroke="#222" stroke-width="0.8"/>
<line x1="42.60" y1="541.14" x2="44.70" y2="541.14" stroke="#222" stroke-width="0.8"/>
<line x1="279.70" y1="541.14" x2="281.80" y2="541.14" stroke="#222" stroke-width="0.8"/>
<text x="71.25" y="291.00" font-size="5.7" text-anchor="middle" fill="#222" font-weight="normal" >9.0</text>
<text x="71.25" y="555.20" font-size="5.8" text-anchor="middle" fill="#222" font-weight="normal" >9.0</text>
<text x="118.45" y="291.00" font-size="5.7" text-anchor="middle" fill="#222" font-weight="normal" >8.5</text>
<text x="118.45" y="555.20" font-size="5.8" text-anchor="middle" fill="#222" font-weight="normal" >8.5</text>
<text x="165.65" y="291.00" font-size="5.7" text-anchor="middle" fill="#222" font-weight="normal" >8.0</text>
<text x="165.65" y="555.20" font-size="5.8" text-anchor="middle" fill="#222" font-weight="normal" >8.0</text>
<text x="212.85" y="291.00" font-size="5.7" text-anchor="middle" fill="#222" font-weight="normal" >7.5</text>
<text x="212.85" y="555.20" font-size="5.8" text-anchor="middle" fill="#222" font-weight="normal" >7.5</text>
<text x="260.05" y="291.00" font-size="5.7" text-anchor="middle" fill="#222" font-weight="normal" >7.0</text>
<text x="260.05" y="555.20" font-size="5.8" text-anchor="middle" fill="#222" font-weight="normal" >7.0</text>
<text x="42.00" y="334.80" font-size="5.7" text-anchor="end" fill="#222" font-weight="normal" >105</text>
<text x="283.80" y="334.80" font-size="5.7" text-anchor="start" fill="#222" font-weight="normal" >105</text>
<text x="42.00" y="382.15" font-size="5.7" text-anchor="end" fill="#222" font-weight="normal" >110</text>
<text x="283.80" y="382.15" font-size="5.7" text-anchor="start" fill="#222" font-weight="normal" >110</text>
<text x="42.00" y="429.50" font-size="5.7" text-anchor="end" fill="#222" font-weight="normal" >115</text>
<text x="283.80" y="429.50" font-size="5.7" text-anchor="start" fill="#222" font-weight="normal" >115</text>
<text x="42.00" y="476.85" font-size="5.7" text-anchor="end" fill="#222" font-weight="normal" >120</text>
<text x="283.80" y="476.85" font-size="5.7" text-anchor="start" fill="#222" font-weight="normal" >120</text>
<text x="42.00" y="524.20" font-size="5.7" text-anchor="end" fill="#222" font-weight="normal" >125</text>
<text x="283.80" y="524.20" font-size="5.7" text-anchor="start" fill="#222" font-weight="normal" >125</text>
<text x="161.90" y="567.00" font-size="6.7" text-anchor="middle" fill="#222" font-weight="normal" >ω<tspan font-size="4.4" dy="1.4">2</tspan><tspan dy="-1.4"> - </tspan><tspan font-size="4.4" dy="-2.4">1</tspan><tspan dy="2.4">H  (ppm)</tspan></text>
<text x="26.40" y="421.50" font-size="6.8" text-anchor="middle" fill="#222" font-weight="normal" transform="rotate(-90 26.40 421.50)" >ω<tspan font-size="4.4" dy="1.3">1</tspan><tspan dy="-1.3"> - </tspan><tspan font-size="4.4" dy="-2.3">15</tspan><tspan dy="2.3">N  (ppm)</tspan></text>
</svg>
</body></html>
